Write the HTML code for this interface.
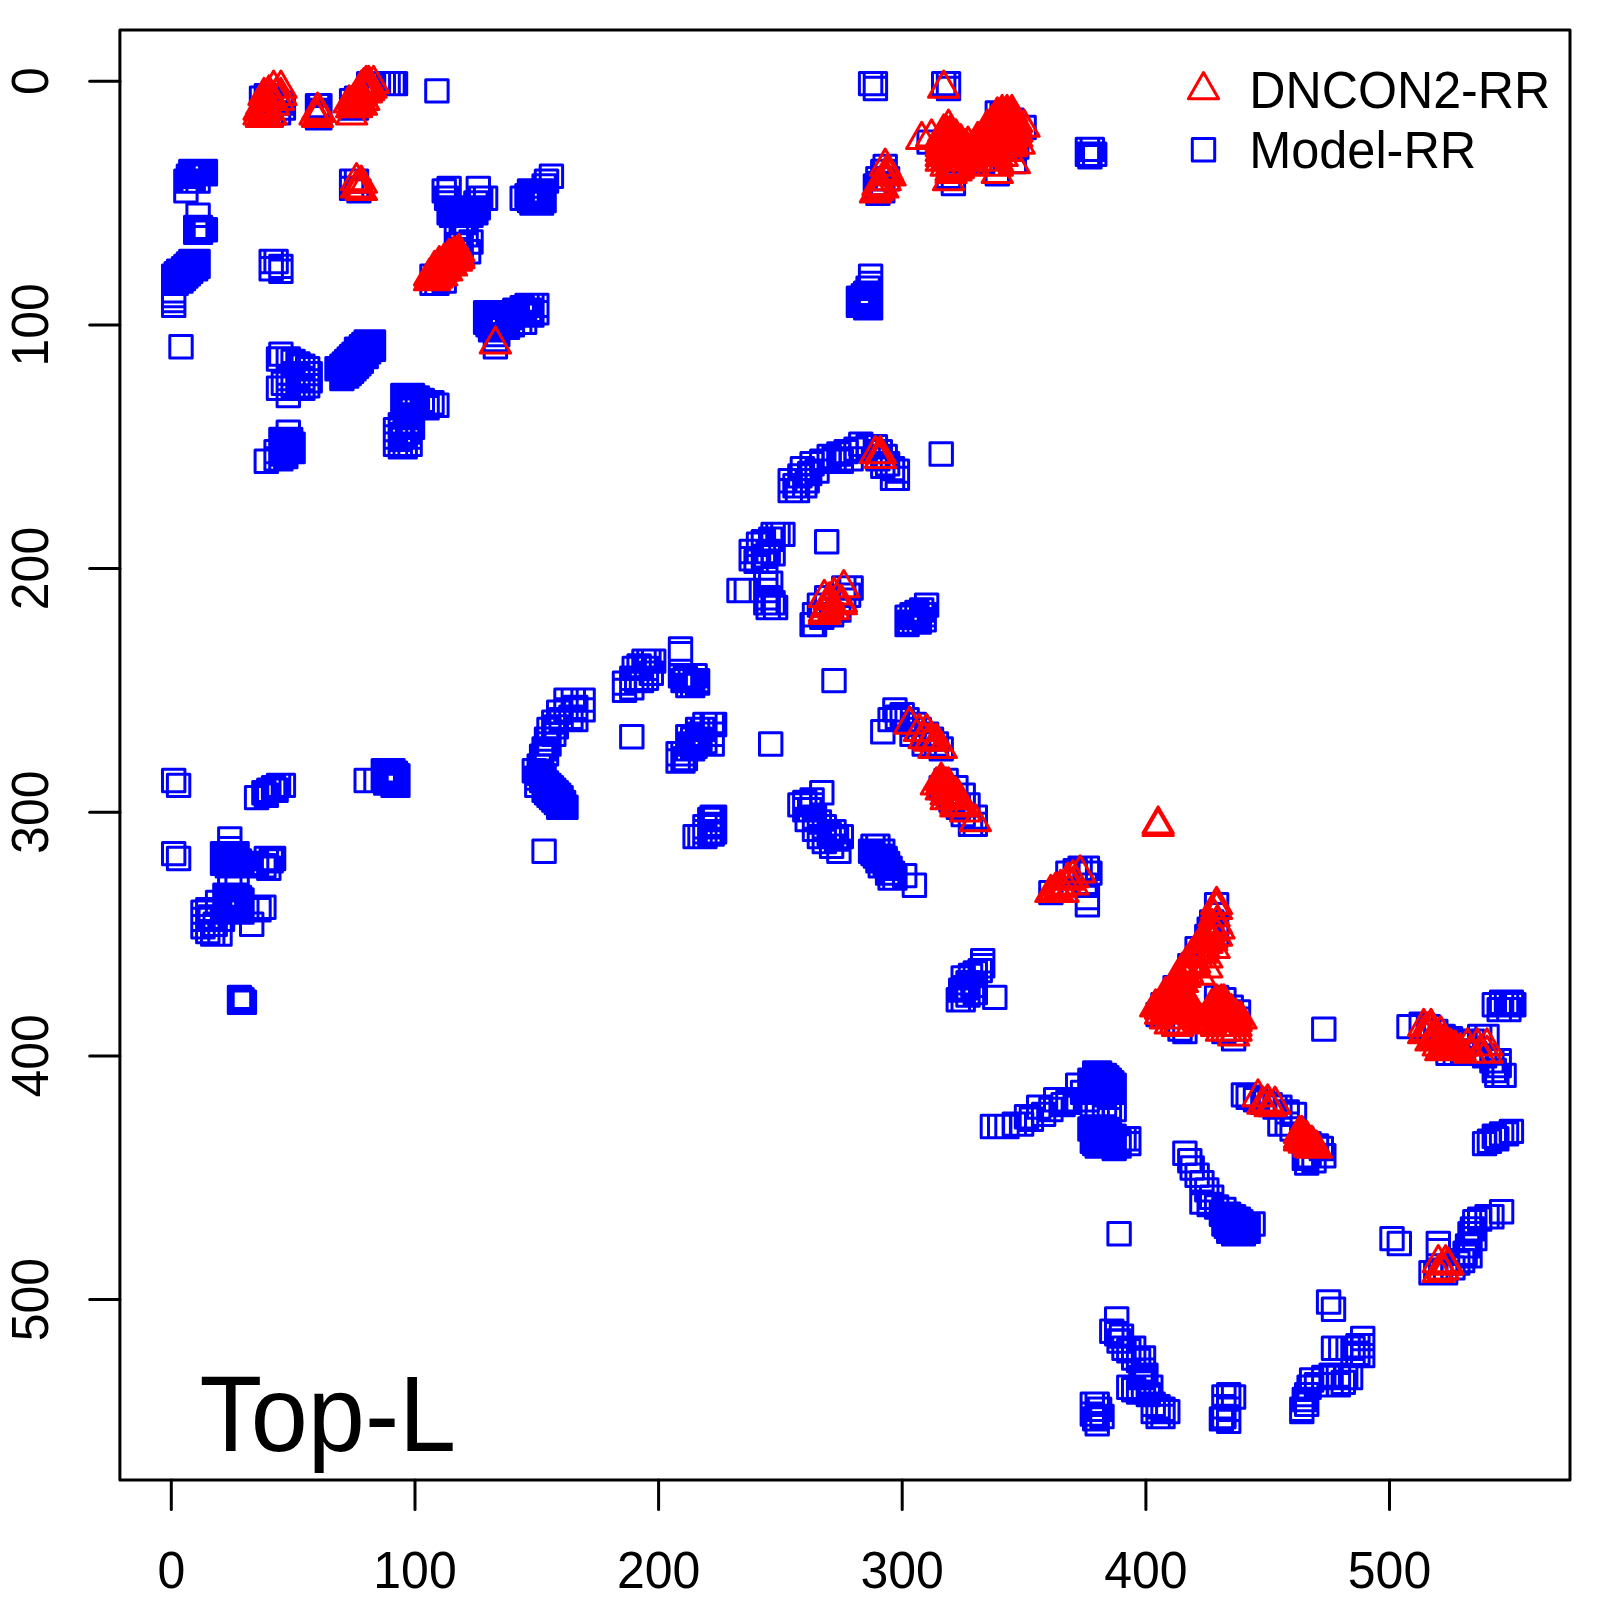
<!DOCTYPE html>
<html><head><meta charset="utf-8"><style>
html,body{margin:0;padding:0;background:#fff;width:1600px;height:1600px;overflow:hidden}
svg{display:block}
text{font-family:"Liberation Sans",Arial,sans-serif;fill:#000}
</style></head><body>
<svg width="1600" height="1600" viewBox="0 0 1600 1600">
<rect width="1600" height="1600" fill="#fff"/>
<g fill="none" stroke="#0000ff" stroke-width="3" stroke-linejoin="round"><path d="M179.6 160.2h22.4v22.4h-22.4zM184.5 160.2h22.4v22.4h-22.4zM189.3 160.2h22.4v22.4h-22.4zM194.2 160.2h22.4v22.4h-22.4zM194.2 162.6h22.4v22.4h-22.4zM182.0 162.6h22.4v22.4h-22.4zM174.7 169.9h22.4v22.4h-22.4zM177.2 169.9h22.4v22.4h-22.4zM186.9 169.9h22.4v22.4h-22.4zM179.6 169.9h22.4v22.4h-22.4zM174.7 179.7h22.4v22.4h-22.4zM182.0 169.9h22.4v22.4h-22.4zM191.8 162.6h22.4v22.4h-22.4zM186.9 162.6h22.4v22.4h-22.4zM177.2 165.0h22.4v22.4h-22.4zM186.9 204.0h22.4v22.4h-22.4zM184.5 216.2h22.4v22.4h-22.4zM189.3 216.2h22.4v22.4h-22.4zM191.8 218.6h22.4v22.4h-22.4zM194.2 218.6h22.4v22.4h-22.4zM186.9 221.1h22.4v22.4h-22.4zM184.5 221.1h22.4v22.4h-22.4zM189.3 221.1h22.4v22.4h-22.4zM162.5 264.9h22.4v22.4h-22.4zM165.0 262.5h22.4v22.4h-22.4zM167.4 260.1h22.4v22.4h-22.4zM169.8 260.1h22.4v22.4h-22.4zM172.3 257.6h22.4v22.4h-22.4zM174.7 255.2h22.4v22.4h-22.4zM177.2 252.8h22.4v22.4h-22.4zM179.6 250.3h22.4v22.4h-22.4zM182.0 250.3h22.4v22.4h-22.4zM184.5 250.3h22.4v22.4h-22.4zM186.9 250.3h22.4v22.4h-22.4zM186.9 255.2h22.4v22.4h-22.4zM162.5 272.2h22.4v22.4h-22.4zM165.0 272.2h22.4v22.4h-22.4zM167.4 269.8h22.4v22.4h-22.4zM169.8 269.8h22.4v22.4h-22.4zM172.3 267.4h22.4v22.4h-22.4zM174.7 264.9h22.4v22.4h-22.4zM177.2 262.5h22.4v22.4h-22.4zM179.6 260.1h22.4v22.4h-22.4zM182.0 257.6h22.4v22.4h-22.4zM184.5 257.6h22.4v22.4h-22.4zM162.5 279.6h22.4v22.4h-22.4zM162.5 284.4h22.4v22.4h-22.4zM162.5 289.3h22.4v22.4h-22.4zM162.5 294.2h22.4v22.4h-22.4zM260.0 250.3h22.4v22.4h-22.4zM264.9 250.3h22.4v22.4h-22.4zM260.0 257.6h22.4v22.4h-22.4zM269.7 260.1h22.4v22.4h-22.4zM269.7 255.2h22.4v22.4h-22.4zM340.4 169.9h22.4v22.4h-22.4zM345.3 169.9h22.4v22.4h-22.4zM345.3 177.2h22.4v22.4h-22.4zM347.7 179.7h22.4v22.4h-22.4zM340.4 177.2h22.4v22.4h-22.4zM250.3 87.1h22.4v22.4h-22.4zM255.1 84.6h22.4v22.4h-22.4zM260.0 87.1h22.4v22.4h-22.4zM264.9 89.5h22.4v22.4h-22.4zM269.7 91.9h22.4v22.4h-22.4zM250.3 99.2h22.4v22.4h-22.4zM252.7 104.1h22.4v22.4h-22.4zM260.0 104.1h22.4v22.4h-22.4zM267.3 101.7h22.4v22.4h-22.4zM272.2 96.8h22.4v22.4h-22.4zM257.6 94.4h22.4v22.4h-22.4zM306.3 94.4h22.4v22.4h-22.4zM308.7 94.4h22.4v22.4h-22.4zM306.3 106.6h22.4v22.4h-22.4zM308.7 106.6h22.4v22.4h-22.4zM306.3 99.2h22.4v22.4h-22.4zM308.7 99.2h22.4v22.4h-22.4zM306.3 101.7h22.4v22.4h-22.4zM308.7 104.1h22.4v22.4h-22.4zM340.4 89.5h22.4v22.4h-22.4zM345.3 87.1h22.4v22.4h-22.4zM340.4 96.8h22.4v22.4h-22.4zM345.3 96.8h22.4v22.4h-22.4zM357.5 72.4h22.4v22.4h-22.4zM362.3 72.4h22.4v22.4h-22.4zM367.2 72.4h22.4v22.4h-22.4zM372.1 72.4h22.4v22.4h-22.4zM376.9 72.4h22.4v22.4h-22.4zM381.8 72.4h22.4v22.4h-22.4zM384.3 72.4h22.4v22.4h-22.4zM425.7 79.7h22.4v22.4h-22.4zM433.0 179.7h22.4v22.4h-22.4zM437.9 177.2h22.4v22.4h-22.4zM467.1 177.2h22.4v22.4h-22.4zM469.5 187.0h22.4v22.4h-22.4zM474.4 187.0h22.4v22.4h-22.4zM435.4 187.0h22.4v22.4h-22.4zM442.7 196.7h22.4v22.4h-22.4zM447.6 199.1h22.4v22.4h-22.4zM452.5 196.7h22.4v22.4h-22.4zM457.4 201.6h22.4v22.4h-22.4zM462.2 199.1h22.4v22.4h-22.4zM467.1 196.7h22.4v22.4h-22.4zM440.3 204.0h22.4v22.4h-22.4zM450.0 204.0h22.4v22.4h-22.4zM459.8 204.0h22.4v22.4h-22.4zM437.9 191.8h22.4v22.4h-22.4zM464.7 191.8h22.4v22.4h-22.4zM447.6 233.3h22.4v22.4h-22.4zM457.4 240.6h22.4v22.4h-22.4zM445.2 223.5h22.4v22.4h-22.4zM454.9 223.5h22.4v22.4h-22.4zM450.0 216.2h22.4v22.4h-22.4zM459.8 230.8h22.4v22.4h-22.4zM452.5 211.3h22.4v22.4h-22.4zM540.2 165.0h22.4v22.4h-22.4zM535.3 169.9h22.4v22.4h-22.4zM532.9 174.8h22.4v22.4h-22.4zM511.0 187.0h22.4v22.4h-22.4zM518.3 182.1h22.4v22.4h-22.4zM523.1 182.1h22.4v22.4h-22.4zM528.0 182.1h22.4v22.4h-22.4zM532.9 182.1h22.4v22.4h-22.4zM518.3 187.0h22.4v22.4h-22.4zM523.1 187.0h22.4v22.4h-22.4zM528.0 187.0h22.4v22.4h-22.4zM532.9 187.0h22.4v22.4h-22.4zM520.7 191.8h22.4v22.4h-22.4zM525.6 191.8h22.4v22.4h-22.4zM530.4 191.8h22.4v22.4h-22.4zM515.8 184.5h22.4v22.4h-22.4zM420.8 272.2h22.4v22.4h-22.4zM425.7 272.2h22.4v22.4h-22.4zM433.0 269.8h22.4v22.4h-22.4zM420.8 264.9h22.4v22.4h-22.4zM428.1 262.5h22.4v22.4h-22.4zM435.4 257.6h22.4v22.4h-22.4zM442.7 250.3h22.4v22.4h-22.4zM450.0 240.6h22.4v22.4h-22.4zM859.4 72.4h22.4v22.4h-22.4zM864.2 77.3h22.4v22.4h-22.4zM932.5 72.4h22.4v22.4h-22.4zM937.3 77.3h22.4v22.4h-22.4zM874.0 155.3h22.4v22.4h-22.4zM871.6 160.2h22.4v22.4h-22.4zM866.7 167.5h22.4v22.4h-22.4zM864.2 174.8h22.4v22.4h-22.4zM866.7 182.1h22.4v22.4h-22.4zM871.6 179.7h22.4v22.4h-22.4zM876.4 167.5h22.4v22.4h-22.4zM869.1 172.3h22.4v22.4h-22.4zM859.4 264.9h22.4v22.4h-22.4zM859.4 272.2h22.4v22.4h-22.4zM854.5 282.0h22.4v22.4h-22.4zM852.1 284.4h22.4v22.4h-22.4zM847.2 289.3h22.4v22.4h-22.4zM847.2 294.2h22.4v22.4h-22.4zM854.5 296.6h22.4v22.4h-22.4zM859.4 296.6h22.4v22.4h-22.4zM859.4 289.3h22.4v22.4h-22.4zM856.9 277.1h22.4v22.4h-22.4zM986.1 101.7h22.4v22.4h-22.4zM990.9 104.1h22.4v22.4h-22.4zM1000.7 109.0h22.4v22.4h-22.4zM995.8 116.3h22.4v22.4h-22.4zM1012.9 116.3h22.4v22.4h-22.4zM1003.1 150.4h22.4v22.4h-22.4zM917.9 130.9h22.4v22.4h-22.4zM937.3 165.0h22.4v22.4h-22.4zM942.2 172.3h22.4v22.4h-22.4zM986.1 162.6h22.4v22.4h-22.4zM1005.6 135.8h22.4v22.4h-22.4zM971.5 150.4h22.4v22.4h-22.4zM952.0 143.1h22.4v22.4h-22.4zM1076.2 138.2h22.4v22.4h-22.4zM1081.1 138.2h22.4v22.4h-22.4zM1076.2 143.1h22.4v22.4h-22.4zM1078.7 145.5h22.4v22.4h-22.4zM1083.5 143.1h22.4v22.4h-22.4zM169.8 335.6h22.4v22.4h-22.4zM269.7 342.9h22.4v22.4h-22.4zM267.3 347.8h22.4v22.4h-22.4zM277.1 347.8h22.4v22.4h-22.4zM281.9 350.2h22.4v22.4h-22.4zM286.8 352.7h22.4v22.4h-22.4zM291.7 355.1h22.4v22.4h-22.4zM296.5 357.5h22.4v22.4h-22.4zM299.0 362.4h22.4v22.4h-22.4zM299.0 369.7h22.4v22.4h-22.4zM296.5 374.6h22.4v22.4h-22.4zM291.7 377.0h22.4v22.4h-22.4zM286.8 377.0h22.4v22.4h-22.4zM281.9 374.6h22.4v22.4h-22.4zM267.3 377.0h22.4v22.4h-22.4zM277.1 384.3h22.4v22.4h-22.4zM286.8 364.8h22.4v22.4h-22.4zM291.7 367.3h22.4v22.4h-22.4zM281.9 362.4h22.4v22.4h-22.4zM277.1 367.3h22.4v22.4h-22.4zM272.2 372.2h22.4v22.4h-22.4zM330.7 357.5h22.4v22.4h-22.4zM330.7 367.3h22.4v22.4h-22.4zM335.5 364.8h22.4v22.4h-22.4zM335.5 355.1h22.4v22.4h-22.4zM340.4 360.0h22.4v22.4h-22.4zM340.4 350.2h22.4v22.4h-22.4zM345.3 355.1h22.4v22.4h-22.4zM345.3 345.3h22.4v22.4h-22.4zM350.1 350.2h22.4v22.4h-22.4zM350.1 340.5h22.4v22.4h-22.4zM355.0 345.3h22.4v22.4h-22.4zM355.0 335.6h22.4v22.4h-22.4zM359.9 330.7h22.4v22.4h-22.4zM362.3 338.0h22.4v22.4h-22.4zM362.3 330.7h22.4v22.4h-22.4zM357.5 330.7h22.4v22.4h-22.4zM352.6 335.6h22.4v22.4h-22.4zM347.7 340.5h22.4v22.4h-22.4zM342.8 345.3h22.4v22.4h-22.4zM338.0 350.2h22.4v22.4h-22.4zM333.1 360.0h22.4v22.4h-22.4zM325.8 357.5h22.4v22.4h-22.4zM335.5 360.0h22.4v22.4h-22.4zM345.3 350.2h22.4v22.4h-22.4zM355.0 340.5h22.4v22.4h-22.4zM277.1 420.9h22.4v22.4h-22.4zM274.6 428.2h22.4v22.4h-22.4zM279.5 428.2h22.4v22.4h-22.4zM281.9 433.1h22.4v22.4h-22.4zM279.5 437.9h22.4v22.4h-22.4zM274.6 440.4h22.4v22.4h-22.4zM269.7 435.5h22.4v22.4h-22.4zM264.9 440.4h22.4v22.4h-22.4zM264.9 447.7h22.4v22.4h-22.4zM255.1 450.1h22.4v22.4h-22.4zM269.7 447.7h22.4v22.4h-22.4zM274.6 445.3h22.4v22.4h-22.4zM281.9 440.4h22.4v22.4h-22.4zM474.4 301.5h22.4v22.4h-22.4zM479.3 301.5h22.4v22.4h-22.4zM484.2 301.5h22.4v22.4h-22.4zM489.0 303.9h22.4v22.4h-22.4zM474.4 303.9h22.4v22.4h-22.4zM476.8 313.7h22.4v22.4h-22.4zM479.3 318.5h22.4v22.4h-22.4zM484.2 318.5h22.4v22.4h-22.4zM486.6 323.4h22.4v22.4h-22.4zM484.2 328.3h22.4v22.4h-22.4zM484.2 335.6h22.4v22.4h-22.4zM491.5 311.2h22.4v22.4h-22.4zM496.3 308.8h22.4v22.4h-22.4zM501.2 306.4h22.4v22.4h-22.4zM506.1 301.5h22.4v22.4h-22.4zM511.0 296.6h22.4v22.4h-22.4zM515.8 294.2h22.4v22.4h-22.4zM520.7 294.2h22.4v22.4h-22.4zM525.6 294.2h22.4v22.4h-22.4zM525.6 301.5h22.4v22.4h-22.4zM520.7 303.9h22.4v22.4h-22.4zM513.4 311.2h22.4v22.4h-22.4zM508.5 311.2h22.4v22.4h-22.4zM501.2 313.7h22.4v22.4h-22.4zM496.3 316.1h22.4v22.4h-22.4zM513.4 303.9h22.4v22.4h-22.4zM481.7 308.8h22.4v22.4h-22.4zM489.0 316.1h22.4v22.4h-22.4zM503.6 299.0h22.4v22.4h-22.4zM518.3 299.0h22.4v22.4h-22.4zM484.2 323.4h22.4v22.4h-22.4zM391.6 384.3h22.4v22.4h-22.4zM396.4 384.3h22.4v22.4h-22.4zM401.3 384.3h22.4v22.4h-22.4zM406.2 386.8h22.4v22.4h-22.4zM411.1 389.2h22.4v22.4h-22.4zM415.9 391.6h22.4v22.4h-22.4zM420.8 391.6h22.4v22.4h-22.4zM425.7 394.1h22.4v22.4h-22.4zM396.4 391.6h22.4v22.4h-22.4zM401.3 394.1h22.4v22.4h-22.4zM406.2 396.5h22.4v22.4h-22.4zM411.1 396.5h22.4v22.4h-22.4zM415.9 396.5h22.4v22.4h-22.4zM391.6 389.2h22.4v22.4h-22.4zM391.6 396.5h22.4v22.4h-22.4zM394.0 403.8h22.4v22.4h-22.4zM389.1 413.6h22.4v22.4h-22.4zM396.4 411.1h22.4v22.4h-22.4zM401.3 416.0h22.4v22.4h-22.4zM384.3 418.4h22.4v22.4h-22.4zM384.3 425.8h22.4v22.4h-22.4zM384.3 433.1h22.4v22.4h-22.4zM389.1 435.5h22.4v22.4h-22.4zM394.0 435.5h22.4v22.4h-22.4zM398.9 433.1h22.4v22.4h-22.4zM398.9 425.8h22.4v22.4h-22.4zM396.4 420.9h22.4v22.4h-22.4zM391.6 423.3h22.4v22.4h-22.4zM401.3 389.2h22.4v22.4h-22.4zM394.0 399.0h22.4v22.4h-22.4zM398.9 406.3h22.4v22.4h-22.4zM389.1 428.2h22.4v22.4h-22.4zM779.0 479.4h22.4v22.4h-22.4zM779.0 469.6h22.4v22.4h-22.4zM783.8 474.5h22.4v22.4h-22.4zM788.7 464.7h22.4v22.4h-22.4zM791.2 457.4h22.4v22.4h-22.4zM796.0 469.6h22.4v22.4h-22.4zM800.9 452.6h22.4v22.4h-22.4zM805.8 459.9h22.4v22.4h-22.4zM818.0 445.3h22.4v22.4h-22.4zM827.7 442.8h22.4v22.4h-22.4zM835.0 440.4h22.4v22.4h-22.4zM839.9 447.7h22.4v22.4h-22.4zM849.6 433.1h22.4v22.4h-22.4zM856.9 435.5h22.4v22.4h-22.4zM864.2 435.5h22.4v22.4h-22.4zM869.1 440.4h22.4v22.4h-22.4zM874.0 445.3h22.4v22.4h-22.4zM876.4 452.6h22.4v22.4h-22.4zM881.3 457.4h22.4v22.4h-22.4zM886.2 459.9h22.4v22.4h-22.4zM886.2 467.2h22.4v22.4h-22.4zM881.3 467.2h22.4v22.4h-22.4zM871.6 455.0h22.4v22.4h-22.4zM866.7 447.7h22.4v22.4h-22.4zM786.3 479.4h22.4v22.4h-22.4zM793.6 474.5h22.4v22.4h-22.4zM798.5 462.3h22.4v22.4h-22.4zM810.6 450.1h22.4v22.4h-22.4zM822.8 447.7h22.4v22.4h-22.4zM830.1 450.1h22.4v22.4h-22.4zM844.8 437.9h22.4v22.4h-22.4zM930.0 442.8h22.4v22.4h-22.4zM761.9 523.2h22.4v22.4h-22.4zM766.8 523.2h22.4v22.4h-22.4zM771.7 523.2h22.4v22.4h-22.4zM747.3 533.0h22.4v22.4h-22.4zM752.2 530.5h22.4v22.4h-22.4zM759.5 528.1h22.4v22.4h-22.4zM740.0 540.3h22.4v22.4h-22.4zM740.0 547.6h22.4v22.4h-22.4zM744.9 550.0h22.4v22.4h-22.4zM752.2 545.2h22.4v22.4h-22.4zM757.0 540.3h22.4v22.4h-22.4zM761.9 542.7h22.4v22.4h-22.4zM754.6 550.0h22.4v22.4h-22.4zM747.3 540.3h22.4v22.4h-22.4zM815.5 530.5h22.4v22.4h-22.4zM727.8 579.3h22.4v22.4h-22.4zM735.1 579.3h22.4v22.4h-22.4zM754.6 579.3h22.4v22.4h-22.4zM757.0 586.6h22.4v22.4h-22.4zM761.9 591.5h22.4v22.4h-22.4zM764.4 596.3h22.4v22.4h-22.4zM757.0 596.3h22.4v22.4h-22.4zM754.6 591.5h22.4v22.4h-22.4zM759.5 572.0h22.4v22.4h-22.4zM754.6 567.1h22.4v22.4h-22.4zM832.6 576.8h22.4v22.4h-22.4zM839.9 576.8h22.4v22.4h-22.4zM837.4 584.1h22.4v22.4h-22.4zM832.6 589.0h22.4v22.4h-22.4zM815.5 586.6h22.4v22.4h-22.4zM808.2 593.9h22.4v22.4h-22.4zM803.3 603.6h22.4v22.4h-22.4zM803.3 613.4h22.4v22.4h-22.4zM810.6 606.1h22.4v22.4h-22.4zM820.4 603.6h22.4v22.4h-22.4zM827.7 598.8h22.4v22.4h-22.4zM915.4 593.9h22.4v22.4h-22.4zM910.5 598.8h22.4v22.4h-22.4zM905.7 601.2h22.4v22.4h-22.4zM900.8 603.6h22.4v22.4h-22.4zM895.9 606.1h22.4v22.4h-22.4zM898.4 610.9h22.4v22.4h-22.4zM903.2 610.9h22.4v22.4h-22.4zM908.1 610.9h22.4v22.4h-22.4zM913.0 608.5h22.4v22.4h-22.4zM913.0 603.6h22.4v22.4h-22.4zM895.9 613.4h22.4v22.4h-22.4zM905.7 606.1h22.4v22.4h-22.4zM162.5 769.3h22.4v22.4h-22.4zM167.4 774.2h22.4v22.4h-22.4zM245.4 786.4h22.4v22.4h-22.4zM252.7 781.5h22.4v22.4h-22.4zM257.6 779.1h22.4v22.4h-22.4zM262.4 776.6h22.4v22.4h-22.4zM267.3 774.2h22.4v22.4h-22.4zM272.2 774.2h22.4v22.4h-22.4zM255.1 784.0h22.4v22.4h-22.4zM264.9 779.1h22.4v22.4h-22.4zM355.0 769.3h22.4v22.4h-22.4zM364.8 769.3h22.4v22.4h-22.4zM372.1 764.5h22.4v22.4h-22.4zM381.8 759.6h22.4v22.4h-22.4zM381.8 766.9h22.4v22.4h-22.4zM386.7 764.5h22.4v22.4h-22.4zM381.8 774.2h22.4v22.4h-22.4zM386.7 774.2h22.4v22.4h-22.4zM376.9 771.8h22.4v22.4h-22.4zM162.5 842.4h22.4v22.4h-22.4zM167.4 847.3h22.4v22.4h-22.4zM218.6 827.8h22.4v22.4h-22.4zM211.3 842.4h22.4v22.4h-22.4zM211.3 849.7h22.4v22.4h-22.4zM218.6 844.9h22.4v22.4h-22.4zM223.4 847.3h22.4v22.4h-22.4zM228.3 849.7h22.4v22.4h-22.4zM230.8 854.6h22.4v22.4h-22.4zM223.4 854.6h22.4v22.4h-22.4zM216.1 854.6h22.4v22.4h-22.4zM255.1 847.3h22.4v22.4h-22.4zM260.0 849.7h22.4v22.4h-22.4zM262.4 847.3h22.4v22.4h-22.4zM257.6 857.1h22.4v22.4h-22.4zM252.7 854.6h22.4v22.4h-22.4zM245.4 852.2h22.4v22.4h-22.4zM238.1 852.2h22.4v22.4h-22.4zM218.6 837.6h22.4v22.4h-22.4zM225.9 842.4h22.4v22.4h-22.4zM218.6 876.5h22.4v22.4h-22.4zM225.9 876.5h22.4v22.4h-22.4zM213.7 883.9h22.4v22.4h-22.4zM218.6 886.3h22.4v22.4h-22.4zM225.9 883.9h22.4v22.4h-22.4zM230.8 888.7h22.4v22.4h-22.4zM213.7 893.6h22.4v22.4h-22.4zM221.0 893.6h22.4v22.4h-22.4zM228.3 896.0h22.4v22.4h-22.4zM230.8 900.9h22.4v22.4h-22.4zM216.1 900.9h22.4v22.4h-22.4zM206.4 891.2h22.4v22.4h-22.4zM196.6 898.5h22.4v22.4h-22.4zM191.8 900.9h22.4v22.4h-22.4zM191.8 908.2h22.4v22.4h-22.4zM191.8 915.5h22.4v22.4h-22.4zM196.6 920.4h22.4v22.4h-22.4zM201.5 922.8h22.4v22.4h-22.4zM208.8 922.8h22.4v22.4h-22.4zM204.0 913.1h22.4v22.4h-22.4zM211.3 908.2h22.4v22.4h-22.4zM240.5 913.1h22.4v22.4h-22.4zM252.7 896.0h22.4v22.4h-22.4zM247.8 898.5h22.4v22.4h-22.4zM235.6 898.5h22.4v22.4h-22.4zM199.1 905.8h22.4v22.4h-22.4zM223.4 900.9h22.4v22.4h-22.4zM228.3 986.2h22.4v22.4h-22.4zM230.8 988.6h22.4v22.4h-22.4zM233.2 991.1h22.4v22.4h-22.4zM228.3 991.1h22.4v22.4h-22.4zM554.8 688.9h22.4v22.4h-22.4zM562.1 688.9h22.4v22.4h-22.4zM571.9 688.9h22.4v22.4h-22.4zM564.6 696.2h22.4v22.4h-22.4zM571.9 698.7h22.4v22.4h-22.4zM547.5 701.1h22.4v22.4h-22.4zM554.8 698.7h22.4v22.4h-22.4zM542.6 710.9h22.4v22.4h-22.4zM549.9 708.4h22.4v22.4h-22.4zM559.7 706.0h22.4v22.4h-22.4zM564.6 708.4h22.4v22.4h-22.4zM537.8 718.2h22.4v22.4h-22.4zM545.1 715.7h22.4v22.4h-22.4zM535.3 727.9h22.4v22.4h-22.4zM542.6 723.0h22.4v22.4h-22.4zM532.9 737.7h22.4v22.4h-22.4zM537.8 732.8h22.4v22.4h-22.4zM530.4 745.0h22.4v22.4h-22.4zM535.3 742.5h22.4v22.4h-22.4zM523.1 759.6h22.4v22.4h-22.4zM528.0 754.7h22.4v22.4h-22.4zM525.6 766.9h22.4v22.4h-22.4zM525.6 774.2h22.4v22.4h-22.4zM532.9 764.5h22.4v22.4h-22.4zM535.3 771.8h22.4v22.4h-22.4zM540.2 776.6h22.4v22.4h-22.4zM545.1 781.5h22.4v22.4h-22.4zM547.5 786.4h22.4v22.4h-22.4zM549.9 791.3h22.4v22.4h-22.4zM554.8 796.1h22.4v22.4h-22.4zM547.5 796.1h22.4v22.4h-22.4zM537.8 781.5h22.4v22.4h-22.4zM530.4 769.3h22.4v22.4h-22.4zM528.0 762.0h22.4v22.4h-22.4zM632.8 649.9h22.4v22.4h-22.4zM637.7 649.9h22.4v22.4h-22.4zM642.5 649.9h22.4v22.4h-22.4zM623.0 657.2h22.4v22.4h-22.4zM627.9 654.8h22.4v22.4h-22.4zM635.2 657.2h22.4v22.4h-22.4zM640.1 662.1h22.4v22.4h-22.4zM613.3 671.9h22.4v22.4h-22.4zM613.3 679.2h22.4v22.4h-22.4zM620.6 667.0h22.4v22.4h-22.4zM625.5 669.4h22.4v22.4h-22.4zM630.3 669.4h22.4v22.4h-22.4zM635.2 667.0h22.4v22.4h-22.4zM620.6 676.7h22.4v22.4h-22.4zM669.3 637.8h22.4v22.4h-22.4zM669.3 642.6h22.4v22.4h-22.4zM620.6 725.5h22.4v22.4h-22.4zM532.9 840.0h22.4v22.4h-22.4zM669.3 664.6h22.4v22.4h-22.4zM674.2 667.0h22.4v22.4h-22.4zM679.1 669.4h22.4v22.4h-22.4zM683.9 664.6h22.4v22.4h-22.4zM686.4 671.9h22.4v22.4h-22.4zM676.6 674.3h22.4v22.4h-22.4zM671.8 669.4h22.4v22.4h-22.4zM681.5 674.3h22.4v22.4h-22.4zM693.7 713.3h22.4v22.4h-22.4zM701.0 713.3h22.4v22.4h-22.4zM703.4 713.3h22.4v22.4h-22.4zM686.4 718.2h22.4v22.4h-22.4zM691.3 718.2h22.4v22.4h-22.4zM693.7 723.0h22.4v22.4h-22.4zM686.4 723.0h22.4v22.4h-22.4zM688.8 727.9h22.4v22.4h-22.4zM693.7 730.3h22.4v22.4h-22.4zM686.4 730.3h22.4v22.4h-22.4zM676.6 725.5h22.4v22.4h-22.4zM681.5 727.9h22.4v22.4h-22.4zM679.1 732.8h22.4v22.4h-22.4zM683.9 735.2h22.4v22.4h-22.4zM676.6 737.7h22.4v22.4h-22.4zM681.5 737.7h22.4v22.4h-22.4zM666.9 742.5h22.4v22.4h-22.4zM671.8 742.5h22.4v22.4h-22.4zM674.2 747.4h22.4v22.4h-22.4zM666.9 749.8h22.4v22.4h-22.4zM671.8 749.8h22.4v22.4h-22.4zM683.9 825.4h22.4v22.4h-22.4zM688.8 825.4h22.4v22.4h-22.4zM693.7 815.6h22.4v22.4h-22.4zM693.7 820.5h22.4v22.4h-22.4zM693.7 825.4h22.4v22.4h-22.4zM698.6 808.3h22.4v22.4h-22.4zM701.0 805.9h22.4v22.4h-22.4zM703.4 805.9h22.4v22.4h-22.4zM703.4 813.2h22.4v22.4h-22.4zM701.0 815.6h22.4v22.4h-22.4zM698.6 822.9h22.4v22.4h-22.4zM701.0 822.9h22.4v22.4h-22.4zM703.4 820.5h22.4v22.4h-22.4zM757.0 596.3h22.4v22.4h-22.4zM764.4 596.3h22.4v22.4h-22.4zM800.9 613.4h22.4v22.4h-22.4zM686.4 669.4h22.4v22.4h-22.4zM701.0 723.0h22.4v22.4h-22.4zM701.0 732.8h22.4v22.4h-22.4zM759.5 732.8h22.4v22.4h-22.4zM822.8 669.4h22.4v22.4h-22.4zM883.7 698.7h22.4v22.4h-22.4zM886.2 706.0h22.4v22.4h-22.4zM871.6 720.6h22.4v22.4h-22.4zM878.9 708.4h22.4v22.4h-22.4zM891.0 703.5h22.4v22.4h-22.4zM895.9 708.4h22.4v22.4h-22.4zM903.2 713.3h22.4v22.4h-22.4zM908.1 718.2h22.4v22.4h-22.4zM915.4 723.0h22.4v22.4h-22.4zM920.3 727.9h22.4v22.4h-22.4zM925.2 732.8h22.4v22.4h-22.4zM930.0 737.7h22.4v22.4h-22.4zM900.8 723.0h22.4v22.4h-22.4zM913.0 732.8h22.4v22.4h-22.4zM934.9 769.3h22.4v22.4h-22.4zM944.7 776.6h22.4v22.4h-22.4zM952.0 784.0h22.4v22.4h-22.4zM956.8 793.7h22.4v22.4h-22.4zM964.1 805.9h22.4v22.4h-22.4zM964.1 813.2h22.4v22.4h-22.4zM959.3 813.2h22.4v22.4h-22.4zM952.0 803.4h22.4v22.4h-22.4zM939.8 788.8h22.4v22.4h-22.4zM930.0 776.6h22.4v22.4h-22.4zM934.9 781.5h22.4v22.4h-22.4zM947.1 796.1h22.4v22.4h-22.4zM810.6 781.5h22.4v22.4h-22.4zM800.9 788.8h22.4v22.4h-22.4zM788.7 793.7h22.4v22.4h-22.4zM793.6 791.3h22.4v22.4h-22.4zM798.5 798.6h22.4v22.4h-22.4zM796.0 808.3h22.4v22.4h-22.4zM803.3 805.9h22.4v22.4h-22.4zM808.2 810.8h22.4v22.4h-22.4zM803.3 818.1h22.4v22.4h-22.4zM813.1 815.6h22.4v22.4h-22.4zM808.2 825.4h22.4v22.4h-22.4zM818.0 822.9h22.4v22.4h-22.4zM813.1 830.3h22.4v22.4h-22.4zM820.4 835.1h22.4v22.4h-22.4zM827.7 840.0h22.4v22.4h-22.4zM825.3 827.8h22.4v22.4h-22.4zM830.1 825.4h22.4v22.4h-22.4zM822.8 820.5h22.4v22.4h-22.4zM793.6 798.6h22.4v22.4h-22.4zM800.9 793.7h22.4v22.4h-22.4zM861.8 835.1h22.4v22.4h-22.4zM866.7 835.1h22.4v22.4h-22.4zM859.4 840.0h22.4v22.4h-22.4zM864.2 844.9h22.4v22.4h-22.4zM869.1 844.9h22.4v22.4h-22.4zM866.7 849.7h22.4v22.4h-22.4zM871.6 849.7h22.4v22.4h-22.4zM874.0 854.6h22.4v22.4h-22.4zM876.4 852.2h22.4v22.4h-22.4zM878.9 857.1h22.4v22.4h-22.4zM881.3 861.9h22.4v22.4h-22.4zM883.7 866.8h22.4v22.4h-22.4zM878.9 866.8h22.4v22.4h-22.4zM893.5 864.4h22.4v22.4h-22.4zM903.2 874.1h22.4v22.4h-22.4zM871.6 840.0h22.4v22.4h-22.4zM874.0 847.3h22.4v22.4h-22.4zM861.8 842.4h22.4v22.4h-22.4zM869.1 854.6h22.4v22.4h-22.4zM876.4 861.9h22.4v22.4h-22.4zM1039.7 881.4h22.4v22.4h-22.4zM1056.7 861.9h22.4v22.4h-22.4zM1068.9 857.1h22.4v22.4h-22.4zM1076.2 857.1h22.4v22.4h-22.4zM1078.7 861.9h22.4v22.4h-22.4zM1076.2 886.3h22.4v22.4h-22.4zM1076.2 893.6h22.4v22.4h-22.4zM1073.8 874.1h22.4v22.4h-22.4zM1064.0 859.5h22.4v22.4h-22.4zM1205.4 893.6h22.4v22.4h-22.4zM971.5 949.6h22.4v22.4h-22.4zM971.5 954.5h22.4v22.4h-22.4zM969.0 959.4h22.4v22.4h-22.4zM964.1 961.8h22.4v22.4h-22.4zM959.3 964.3h22.4v22.4h-22.4zM952.0 966.7h22.4v22.4h-22.4zM956.8 971.6h22.4v22.4h-22.4zM949.5 978.9h22.4v22.4h-22.4zM954.4 976.5h22.4v22.4h-22.4zM961.7 974.0h22.4v22.4h-22.4zM947.1 988.6h22.4v22.4h-22.4zM952.0 988.6h22.4v22.4h-22.4zM956.8 983.8h22.4v22.4h-22.4zM964.1 981.3h22.4v22.4h-22.4zM983.6 986.2h22.4v22.4h-22.4zM1195.6 925.3h22.4v22.4h-22.4zM1185.9 937.5h22.4v22.4h-22.4zM1178.6 954.5h22.4v22.4h-22.4zM1163.9 976.5h22.4v22.4h-22.4zM1151.8 993.5h22.4v22.4h-22.4zM1146.9 1003.3h22.4v22.4h-22.4zM1205.4 986.2h22.4v22.4h-22.4zM1212.7 988.6h22.4v22.4h-22.4zM1220.0 995.9h22.4v22.4h-22.4zM1227.3 1000.8h22.4v22.4h-22.4zM1227.3 1008.1h22.4v22.4h-22.4zM1222.4 1017.9h22.4v22.4h-22.4zM1222.4 1027.6h22.4v22.4h-22.4zM1212.7 1020.3h22.4v22.4h-22.4zM1173.7 1020.3h22.4v22.4h-22.4zM1168.8 1017.9h22.4v22.4h-22.4zM1200.5 910.7h22.4v22.4h-22.4zM1198.0 918.0h22.4v22.4h-22.4zM981.2 1115.3h22.4v22.4h-22.4zM988.5 1115.3h22.4v22.4h-22.4zM995.8 1115.3h22.4v22.4h-22.4zM1003.1 1112.9h22.4v22.4h-22.4zM1010.4 1112.9h22.4v22.4h-22.4zM1015.3 1105.6h22.4v22.4h-22.4zM1020.2 1108.0h22.4v22.4h-22.4zM1027.5 1095.9h22.4v22.4h-22.4zM1032.4 1103.2h22.4v22.4h-22.4zM1039.7 1098.3h22.4v22.4h-22.4zM1044.5 1088.5h22.4v22.4h-22.4zM1051.9 1093.4h22.4v22.4h-22.4zM1056.7 1091.0h22.4v22.4h-22.4zM1064.0 1088.5h22.4v22.4h-22.4zM1066.5 1073.9h22.4v22.4h-22.4zM1071.4 1081.2h22.4v22.4h-22.4zM1076.2 1088.5h22.4v22.4h-22.4zM1081.1 1093.4h22.4v22.4h-22.4zM1086.0 1098.3h22.4v22.4h-22.4zM1093.3 1093.4h22.4v22.4h-22.4zM1098.2 1095.9h22.4v22.4h-22.4zM1103.0 1098.3h22.4v22.4h-22.4zM1083.5 1061.7h22.4v22.4h-22.4zM1088.4 1061.7h22.4v22.4h-22.4zM1093.3 1064.2h22.4v22.4h-22.4zM1098.2 1069.0h22.4v22.4h-22.4zM1103.0 1073.9h22.4v22.4h-22.4zM1103.0 1081.2h22.4v22.4h-22.4zM1098.2 1086.1h22.4v22.4h-22.4zM1093.3 1083.7h22.4v22.4h-22.4zM1088.4 1081.2h22.4v22.4h-22.4zM1083.5 1076.4h22.4v22.4h-22.4zM1078.7 1069.0h22.4v22.4h-22.4zM1088.4 1069.0h22.4v22.4h-22.4zM1095.7 1073.9h22.4v22.4h-22.4zM1078.7 1117.8h22.4v22.4h-22.4zM1083.5 1120.2h22.4v22.4h-22.4zM1088.4 1125.1h22.4v22.4h-22.4zM1093.3 1130.0h22.4v22.4h-22.4zM1098.2 1134.8h22.4v22.4h-22.4zM1103.0 1137.3h22.4v22.4h-22.4zM1107.9 1134.8h22.4v22.4h-22.4zM1112.8 1127.5h22.4v22.4h-22.4zM1117.6 1127.5h22.4v22.4h-22.4zM1086.0 1130.0h22.4v22.4h-22.4zM1081.1 1125.1h22.4v22.4h-22.4zM1095.7 1122.7h22.4v22.4h-22.4zM1103.0 1127.5h22.4v22.4h-22.4zM1107.9 1130.0h22.4v22.4h-22.4zM1232.2 1083.7h22.4v22.4h-22.4zM1237.0 1086.1h22.4v22.4h-22.4zM1244.3 1088.5h22.4v22.4h-22.4zM1251.7 1091.0h22.4v22.4h-22.4zM1259.0 1093.4h22.4v22.4h-22.4zM1263.8 1095.9h22.4v22.4h-22.4zM1312.6 1017.9h22.4v22.4h-22.4zM1397.8 1015.4h22.4v22.4h-22.4zM1410.0 1013.0h22.4v22.4h-22.4zM1417.3 1015.4h22.4v22.4h-22.4zM1424.6 1020.3h22.4v22.4h-22.4zM1432.0 1025.2h22.4v22.4h-22.4zM1439.3 1027.6h22.4v22.4h-22.4zM1446.6 1030.1h22.4v22.4h-22.4zM1453.9 1032.5h22.4v22.4h-22.4zM1461.2 1030.1h22.4v22.4h-22.4zM1468.5 1025.2h22.4v22.4h-22.4zM1475.8 1025.2h22.4v22.4h-22.4zM1436.8 1042.2h22.4v22.4h-22.4zM1444.1 1042.2h22.4v22.4h-22.4zM1451.4 1039.8h22.4v22.4h-22.4zM1463.6 1042.2h22.4v22.4h-22.4zM1473.4 1044.7h22.4v22.4h-22.4zM1480.7 1049.6h22.4v22.4h-22.4zM1488.0 1049.6h22.4v22.4h-22.4zM1483.1 1059.3h22.4v22.4h-22.4zM1492.9 1064.2h22.4v22.4h-22.4zM1488.0 1054.4h22.4v22.4h-22.4zM1485.6 1064.2h22.4v22.4h-22.4zM1483.1 993.5h22.4v22.4h-22.4zM1490.4 991.1h22.4v22.4h-22.4zM1495.3 991.1h22.4v22.4h-22.4zM1500.2 991.1h22.4v22.4h-22.4zM1488.0 998.4h22.4v22.4h-22.4zM1497.7 998.4h22.4v22.4h-22.4zM1502.6 993.5h22.4v22.4h-22.4zM1268.7 1095.9h22.4v22.4h-22.4zM1276.0 1100.7h22.4v22.4h-22.4zM1283.3 1103.2h22.4v22.4h-22.4zM1276.0 1112.9h22.4v22.4h-22.4zM1280.9 1117.8h22.4v22.4h-22.4zM1268.7 1112.9h22.4v22.4h-22.4zM1290.6 1127.5h22.4v22.4h-22.4zM1297.9 1132.4h22.4v22.4h-22.4zM1305.3 1134.8h22.4v22.4h-22.4zM1310.1 1137.3h22.4v22.4h-22.4zM1297.9 1144.6h22.4v22.4h-22.4zM1293.1 1147.0h22.4v22.4h-22.4zM1302.8 1149.5h22.4v22.4h-22.4zM1312.6 1144.6h22.4v22.4h-22.4zM1295.5 1151.9h22.4v22.4h-22.4zM1473.4 1132.4h22.4v22.4h-22.4zM1478.2 1130.0h22.4v22.4h-22.4zM1483.1 1125.1h22.4v22.4h-22.4zM1490.4 1122.7h22.4v22.4h-22.4zM1495.3 1122.7h22.4v22.4h-22.4zM1500.2 1120.2h22.4v22.4h-22.4zM1485.6 1127.5h22.4v22.4h-22.4zM1173.7 1142.1h22.4v22.4h-22.4zM1178.6 1149.5h22.4v22.4h-22.4zM1181.0 1156.8h22.4v22.4h-22.4zM1185.9 1164.1h22.4v22.4h-22.4zM1190.7 1171.4h22.4v22.4h-22.4zM1195.6 1178.7h22.4v22.4h-22.4zM1200.5 1186.0h22.4v22.4h-22.4zM1190.7 1190.9h22.4v22.4h-22.4zM1198.0 1193.3h22.4v22.4h-22.4zM1205.4 1195.8h22.4v22.4h-22.4zM1212.7 1198.2h22.4v22.4h-22.4zM1217.5 1203.1h22.4v22.4h-22.4zM1222.4 1207.9h22.4v22.4h-22.4zM1227.3 1212.8h22.4v22.4h-22.4zM1232.2 1215.2h22.4v22.4h-22.4zM1237.0 1215.2h22.4v22.4h-22.4zM1241.9 1212.8h22.4v22.4h-22.4zM1220.0 1215.2h22.4v22.4h-22.4zM1227.3 1220.1h22.4v22.4h-22.4zM1232.2 1222.6h22.4v22.4h-22.4zM1222.4 1222.6h22.4v22.4h-22.4zM1210.2 1203.1h22.4v22.4h-22.4zM1215.1 1210.4h22.4v22.4h-22.4zM1107.9 1222.6h22.4v22.4h-22.4zM1105.5 1307.8h22.4v22.4h-22.4zM1100.6 1320.0h22.4v22.4h-22.4zM1105.5 1322.5h22.4v22.4h-22.4zM1110.3 1324.9h22.4v22.4h-22.4zM1107.9 1329.8h22.4v22.4h-22.4zM1112.8 1337.1h22.4v22.4h-22.4zM1117.6 1339.5h22.4v22.4h-22.4zM1122.5 1337.1h22.4v22.4h-22.4zM1122.5 1346.8h22.4v22.4h-22.4zM1127.4 1349.3h22.4v22.4h-22.4zM1132.3 1346.8h22.4v22.4h-22.4zM1132.3 1359.0h22.4v22.4h-22.4zM1134.7 1363.9h22.4v22.4h-22.4zM1129.8 1366.3h22.4v22.4h-22.4zM1117.6 1376.1h22.4v22.4h-22.4zM1122.5 1378.5h22.4v22.4h-22.4zM1127.4 1380.9h22.4v22.4h-22.4zM1132.3 1380.9h22.4v22.4h-22.4zM1137.1 1383.4h22.4v22.4h-22.4zM1139.6 1376.1h22.4v22.4h-22.4zM1142.0 1393.1h22.4v22.4h-22.4zM1146.9 1395.6h22.4v22.4h-22.4zM1151.8 1398.0h22.4v22.4h-22.4zM1156.6 1400.4h22.4v22.4h-22.4zM1151.8 1405.3h22.4v22.4h-22.4zM1146.9 1405.3h22.4v22.4h-22.4zM1142.0 1400.4h22.4v22.4h-22.4zM1081.1 1393.1h22.4v22.4h-22.4zM1086.0 1393.1h22.4v22.4h-22.4zM1088.4 1398.0h22.4v22.4h-22.4zM1081.1 1402.9h22.4v22.4h-22.4zM1083.5 1407.7h22.4v22.4h-22.4zM1086.0 1412.6h22.4v22.4h-22.4zM1090.8 1405.3h22.4v22.4h-22.4zM1212.7 1385.8h22.4v22.4h-22.4zM1217.5 1383.4h22.4v22.4h-22.4zM1222.4 1385.8h22.4v22.4h-22.4zM1212.7 1395.6h22.4v22.4h-22.4zM1217.5 1398.0h22.4v22.4h-22.4zM1212.7 1405.3h22.4v22.4h-22.4zM1217.5 1410.2h22.4v22.4h-22.4zM1210.2 1407.7h22.4v22.4h-22.4zM1290.6 1400.4h22.4v22.4h-22.4zM1380.8 1227.4h22.4v22.4h-22.4zM1388.1 1232.3h22.4v22.4h-22.4zM1490.4 1200.6h22.4v22.4h-22.4zM1475.8 1205.5h22.4v22.4h-22.4zM1480.7 1205.5h22.4v22.4h-22.4zM1463.6 1210.4h22.4v22.4h-22.4zM1468.5 1207.9h22.4v22.4h-22.4zM1458.8 1222.6h22.4v22.4h-22.4zM1463.6 1227.4h22.4v22.4h-22.4zM1461.2 1217.7h22.4v22.4h-22.4zM1453.9 1242.1h22.4v22.4h-22.4zM1458.8 1244.5h22.4v22.4h-22.4zM1456.3 1234.7h22.4v22.4h-22.4zM1451.4 1249.4h22.4v22.4h-22.4zM1427.1 1232.3h22.4v22.4h-22.4zM1427.1 1239.6h22.4v22.4h-22.4zM1419.8 1261.5h22.4v22.4h-22.4zM1424.6 1261.5h22.4v22.4h-22.4zM1429.5 1259.1h22.4v22.4h-22.4zM1434.4 1261.5h22.4v22.4h-22.4zM1446.6 1251.8h22.4v22.4h-22.4zM1441.7 1256.7h22.4v22.4h-22.4zM1317.4 1290.8h22.4v22.4h-22.4zM1322.3 1298.1h22.4v22.4h-22.4zM1322.3 1337.1h22.4v22.4h-22.4zM1329.6 1337.1h22.4v22.4h-22.4zM1336.9 1337.1h22.4v22.4h-22.4zM1341.8 1337.1h22.4v22.4h-22.4zM1346.7 1334.6h22.4v22.4h-22.4zM1351.5 1327.3h22.4v22.4h-22.4zM1351.5 1334.6h22.4v22.4h-22.4zM1351.5 1344.4h22.4v22.4h-22.4zM1346.7 1342.0h22.4v22.4h-22.4zM1341.8 1344.4h22.4v22.4h-22.4zM1312.6 1366.3h22.4v22.4h-22.4zM1319.9 1363.9h22.4v22.4h-22.4zM1327.2 1363.9h22.4v22.4h-22.4zM1334.5 1366.3h22.4v22.4h-22.4zM1339.4 1366.3h22.4v22.4h-22.4zM1319.9 1373.6h22.4v22.4h-22.4zM1327.2 1373.6h22.4v22.4h-22.4zM1332.1 1371.2h22.4v22.4h-22.4zM1300.4 1368.8h22.4v22.4h-22.4zM1297.9 1376.1h22.4v22.4h-22.4zM1295.5 1383.4h22.4v22.4h-22.4zM1293.1 1388.3h22.4v22.4h-22.4zM1290.6 1398.0h22.4v22.4h-22.4zM1295.5 1393.1h22.4v22.4h-22.4zM1305.3 1373.6h22.4v22.4h-22.4zM1205.4 903.4h22.4v22.4h-22.4zM1205.4 913.1h22.4v22.4h-22.4zM1205.4 922.8h22.4v22.4h-22.4zM1117.6 1132.4h22.4v22.4h-22.4zM864.2 72.4h22.4v22.4h-22.4zM937.3 72.4h22.4v22.4h-22.4zM1212.7 1205.5h22.4v22.4h-22.4zM1215.1 1205.5h22.4v22.4h-22.4zM1217.5 1205.5h22.4v22.4h-22.4zM1220.0 1205.5h22.4v22.4h-22.4zM1222.4 1205.5h22.4v22.4h-22.4zM1212.7 1207.9h22.4v22.4h-22.4zM1215.1 1207.9h22.4v22.4h-22.4zM1217.5 1207.9h22.4v22.4h-22.4zM1220.0 1207.9h22.4v22.4h-22.4zM1222.4 1207.9h22.4v22.4h-22.4zM1224.9 1207.9h22.4v22.4h-22.4zM1227.3 1207.9h22.4v22.4h-22.4zM1212.7 1210.4h22.4v22.4h-22.4zM1215.1 1210.4h22.4v22.4h-22.4zM1217.5 1210.4h22.4v22.4h-22.4zM1220.0 1210.4h22.4v22.4h-22.4zM1222.4 1210.4h22.4v22.4h-22.4zM1224.9 1210.4h22.4v22.4h-22.4zM1227.3 1210.4h22.4v22.4h-22.4zM1229.7 1210.4h22.4v22.4h-22.4zM1212.7 1212.8h22.4v22.4h-22.4zM1215.1 1212.8h22.4v22.4h-22.4zM1217.5 1212.8h22.4v22.4h-22.4zM1220.0 1212.8h22.4v22.4h-22.4zM1222.4 1212.8h22.4v22.4h-22.4zM1224.9 1212.8h22.4v22.4h-22.4zM1227.3 1212.8h22.4v22.4h-22.4zM1229.7 1212.8h22.4v22.4h-22.4zM1232.2 1212.8h22.4v22.4h-22.4zM1234.6 1212.8h22.4v22.4h-22.4zM1215.1 1215.2h22.4v22.4h-22.4zM1217.5 1215.2h22.4v22.4h-22.4zM1220.0 1215.2h22.4v22.4h-22.4zM1222.4 1215.2h22.4v22.4h-22.4zM1224.9 1215.2h22.4v22.4h-22.4zM1227.3 1215.2h22.4v22.4h-22.4zM1229.7 1215.2h22.4v22.4h-22.4zM1232.2 1215.2h22.4v22.4h-22.4zM1234.6 1215.2h22.4v22.4h-22.4zM1237.0 1215.2h22.4v22.4h-22.4zM1217.5 1217.7h22.4v22.4h-22.4zM1220.0 1217.7h22.4v22.4h-22.4zM1222.4 1217.7h22.4v22.4h-22.4zM1224.9 1217.7h22.4v22.4h-22.4zM1227.3 1217.7h22.4v22.4h-22.4zM1229.7 1217.7h22.4v22.4h-22.4zM1232.2 1217.7h22.4v22.4h-22.4zM1234.6 1217.7h22.4v22.4h-22.4zM1237.0 1217.7h22.4v22.4h-22.4zM1217.5 1220.1h22.4v22.4h-22.4zM1220.0 1220.1h22.4v22.4h-22.4zM1222.4 1220.1h22.4v22.4h-22.4zM1224.9 1220.1h22.4v22.4h-22.4zM1227.3 1220.1h22.4v22.4h-22.4zM1229.7 1220.1h22.4v22.4h-22.4zM1232.2 1220.1h22.4v22.4h-22.4zM1234.6 1220.1h22.4v22.4h-22.4zM1237.0 1220.1h22.4v22.4h-22.4zM1083.5 1064.2h22.4v22.4h-22.4zM1086.0 1064.2h22.4v22.4h-22.4zM1088.4 1064.2h22.4v22.4h-22.4zM1090.8 1064.2h22.4v22.4h-22.4zM1093.3 1064.2h22.4v22.4h-22.4zM1083.5 1066.6h22.4v22.4h-22.4zM1086.0 1066.6h22.4v22.4h-22.4zM1088.4 1066.6h22.4v22.4h-22.4zM1090.8 1066.6h22.4v22.4h-22.4zM1093.3 1066.6h22.4v22.4h-22.4zM1095.7 1066.6h22.4v22.4h-22.4zM1083.5 1069.0h22.4v22.4h-22.4zM1086.0 1069.0h22.4v22.4h-22.4zM1088.4 1069.0h22.4v22.4h-22.4zM1090.8 1069.0h22.4v22.4h-22.4zM1093.3 1069.0h22.4v22.4h-22.4zM1095.7 1069.0h22.4v22.4h-22.4zM1098.2 1069.0h22.4v22.4h-22.4zM1081.1 1071.5h22.4v22.4h-22.4zM1083.5 1071.5h22.4v22.4h-22.4zM1086.0 1071.5h22.4v22.4h-22.4zM1088.4 1071.5h22.4v22.4h-22.4zM1090.8 1071.5h22.4v22.4h-22.4zM1093.3 1071.5h22.4v22.4h-22.4zM1095.7 1071.5h22.4v22.4h-22.4zM1098.2 1071.5h22.4v22.4h-22.4zM1100.6 1071.5h22.4v22.4h-22.4zM1083.5 1073.9h22.4v22.4h-22.4zM1086.0 1073.9h22.4v22.4h-22.4zM1088.4 1073.9h22.4v22.4h-22.4zM1090.8 1073.9h22.4v22.4h-22.4zM1093.3 1073.9h22.4v22.4h-22.4zM1095.7 1073.9h22.4v22.4h-22.4zM1098.2 1073.9h22.4v22.4h-22.4zM1100.6 1073.9h22.4v22.4h-22.4zM1083.5 1076.4h22.4v22.4h-22.4zM1086.0 1076.4h22.4v22.4h-22.4zM1088.4 1076.4h22.4v22.4h-22.4zM1090.8 1076.4h22.4v22.4h-22.4zM1093.3 1076.4h22.4v22.4h-22.4zM1095.7 1076.4h22.4v22.4h-22.4zM1098.2 1076.4h22.4v22.4h-22.4zM1100.6 1076.4h22.4v22.4h-22.4zM1083.5 1078.8h22.4v22.4h-22.4zM1086.0 1078.8h22.4v22.4h-22.4zM1088.4 1078.8h22.4v22.4h-22.4zM1090.8 1078.8h22.4v22.4h-22.4zM1093.3 1078.8h22.4v22.4h-22.4zM1095.7 1078.8h22.4v22.4h-22.4zM1098.2 1078.8h22.4v22.4h-22.4zM1100.6 1078.8h22.4v22.4h-22.4zM1083.5 1081.2h22.4v22.4h-22.4zM1086.0 1081.2h22.4v22.4h-22.4zM1088.4 1081.2h22.4v22.4h-22.4zM1090.8 1081.2h22.4v22.4h-22.4zM1093.3 1081.2h22.4v22.4h-22.4zM1095.7 1081.2h22.4v22.4h-22.4zM1098.2 1081.2h22.4v22.4h-22.4zM1100.6 1081.2h22.4v22.4h-22.4zM1081.1 1120.2h22.4v22.4h-22.4zM1083.5 1120.2h22.4v22.4h-22.4zM1086.0 1120.2h22.4v22.4h-22.4zM1088.4 1120.2h22.4v22.4h-22.4zM1090.8 1120.2h22.4v22.4h-22.4zM1081.1 1122.7h22.4v22.4h-22.4zM1083.5 1122.7h22.4v22.4h-22.4zM1086.0 1122.7h22.4v22.4h-22.4zM1088.4 1122.7h22.4v22.4h-22.4zM1090.8 1122.7h22.4v22.4h-22.4zM1093.3 1122.7h22.4v22.4h-22.4zM1095.7 1122.7h22.4v22.4h-22.4zM1098.2 1122.7h22.4v22.4h-22.4zM1081.1 1125.1h22.4v22.4h-22.4zM1083.5 1125.1h22.4v22.4h-22.4zM1086.0 1125.1h22.4v22.4h-22.4zM1088.4 1125.1h22.4v22.4h-22.4zM1090.8 1125.1h22.4v22.4h-22.4zM1093.3 1125.1h22.4v22.4h-22.4zM1095.7 1125.1h22.4v22.4h-22.4zM1098.2 1125.1h22.4v22.4h-22.4zM1100.6 1125.1h22.4v22.4h-22.4zM1103.0 1125.1h22.4v22.4h-22.4zM1081.1 1127.5h22.4v22.4h-22.4zM1083.5 1127.5h22.4v22.4h-22.4zM1086.0 1127.5h22.4v22.4h-22.4zM1088.4 1127.5h22.4v22.4h-22.4zM1090.8 1127.5h22.4v22.4h-22.4zM1093.3 1127.5h22.4v22.4h-22.4zM1095.7 1127.5h22.4v22.4h-22.4zM1098.2 1127.5h22.4v22.4h-22.4zM1100.6 1127.5h22.4v22.4h-22.4zM1103.0 1127.5h22.4v22.4h-22.4zM1081.1 1130.0h22.4v22.4h-22.4zM1083.5 1130.0h22.4v22.4h-22.4zM1086.0 1130.0h22.4v22.4h-22.4zM1088.4 1130.0h22.4v22.4h-22.4zM1090.8 1130.0h22.4v22.4h-22.4zM1093.3 1130.0h22.4v22.4h-22.4zM1095.7 1130.0h22.4v22.4h-22.4zM1098.2 1130.0h22.4v22.4h-22.4zM1100.6 1130.0h22.4v22.4h-22.4zM1103.0 1130.0h22.4v22.4h-22.4zM1083.5 1132.4h22.4v22.4h-22.4zM1086.0 1132.4h22.4v22.4h-22.4zM1088.4 1132.4h22.4v22.4h-22.4zM1090.8 1132.4h22.4v22.4h-22.4zM1093.3 1132.4h22.4v22.4h-22.4zM1095.7 1132.4h22.4v22.4h-22.4zM1098.2 1132.4h22.4v22.4h-22.4zM1100.6 1132.4h22.4v22.4h-22.4zM1103.0 1132.4h22.4v22.4h-22.4zM1086.0 1134.8h22.4v22.4h-22.4zM1088.4 1134.8h22.4v22.4h-22.4zM1090.8 1134.8h22.4v22.4h-22.4zM1093.3 1134.8h22.4v22.4h-22.4zM1095.7 1134.8h22.4v22.4h-22.4zM1098.2 1134.8h22.4v22.4h-22.4zM1100.6 1134.8h22.4v22.4h-22.4zM1103.0 1134.8h22.4v22.4h-22.4zM372.1 759.6h22.4v22.4h-22.4zM374.5 759.6h22.4v22.4h-22.4zM376.9 759.6h22.4v22.4h-22.4zM379.4 759.6h22.4v22.4h-22.4zM381.8 759.6h22.4v22.4h-22.4zM372.1 762.0h22.4v22.4h-22.4zM374.5 762.0h22.4v22.4h-22.4zM376.9 762.0h22.4v22.4h-22.4zM379.4 762.0h22.4v22.4h-22.4zM381.8 762.0h22.4v22.4h-22.4zM384.3 762.0h22.4v22.4h-22.4zM372.1 764.5h22.4v22.4h-22.4zM374.5 764.5h22.4v22.4h-22.4zM376.9 764.5h22.4v22.4h-22.4zM379.4 764.5h22.4v22.4h-22.4zM381.8 764.5h22.4v22.4h-22.4zM384.3 764.5h22.4v22.4h-22.4zM372.1 766.9h22.4v22.4h-22.4zM374.5 766.9h22.4v22.4h-22.4zM376.9 766.9h22.4v22.4h-22.4zM379.4 766.9h22.4v22.4h-22.4zM381.8 766.9h22.4v22.4h-22.4zM384.3 766.9h22.4v22.4h-22.4zM374.5 769.3h22.4v22.4h-22.4zM376.9 769.3h22.4v22.4h-22.4zM379.4 769.3h22.4v22.4h-22.4zM381.8 769.3h22.4v22.4h-22.4zM384.3 769.3h22.4v22.4h-22.4zM374.5 771.8h22.4v22.4h-22.4zM376.9 771.8h22.4v22.4h-22.4zM379.4 771.8h22.4v22.4h-22.4zM381.8 771.8h22.4v22.4h-22.4zM384.3 771.8h22.4v22.4h-22.4zM211.3 842.4h22.4v22.4h-22.4zM213.7 842.4h22.4v22.4h-22.4zM216.1 842.4h22.4v22.4h-22.4zM218.6 842.4h22.4v22.4h-22.4zM221.0 842.4h22.4v22.4h-22.4zM211.3 844.9h22.4v22.4h-22.4zM213.7 844.9h22.4v22.4h-22.4zM216.1 844.9h22.4v22.4h-22.4zM218.6 844.9h22.4v22.4h-22.4zM221.0 844.9h22.4v22.4h-22.4zM223.4 844.9h22.4v22.4h-22.4zM211.3 847.3h22.4v22.4h-22.4zM213.7 847.3h22.4v22.4h-22.4zM216.1 847.3h22.4v22.4h-22.4zM218.6 847.3h22.4v22.4h-22.4zM221.0 847.3h22.4v22.4h-22.4zM223.4 847.3h22.4v22.4h-22.4zM225.9 847.3h22.4v22.4h-22.4zM211.3 849.7h22.4v22.4h-22.4zM213.7 849.7h22.4v22.4h-22.4zM216.1 849.7h22.4v22.4h-22.4zM218.6 849.7h22.4v22.4h-22.4zM221.0 849.7h22.4v22.4h-22.4zM223.4 849.7h22.4v22.4h-22.4zM225.9 849.7h22.4v22.4h-22.4zM228.3 849.7h22.4v22.4h-22.4zM211.3 852.2h22.4v22.4h-22.4zM213.7 852.2h22.4v22.4h-22.4zM216.1 852.2h22.4v22.4h-22.4zM218.6 852.2h22.4v22.4h-22.4zM221.0 852.2h22.4v22.4h-22.4zM223.4 852.2h22.4v22.4h-22.4zM225.9 852.2h22.4v22.4h-22.4zM228.3 852.2h22.4v22.4h-22.4zM216.1 854.6h22.4v22.4h-22.4zM218.6 854.6h22.4v22.4h-22.4zM221.0 854.6h22.4v22.4h-22.4zM223.4 854.6h22.4v22.4h-22.4zM225.9 854.6h22.4v22.4h-22.4zM228.3 854.6h22.4v22.4h-22.4zM213.7 883.9h22.4v22.4h-22.4zM216.1 883.9h22.4v22.4h-22.4zM218.6 883.9h22.4v22.4h-22.4zM221.0 883.9h22.4v22.4h-22.4zM223.4 883.9h22.4v22.4h-22.4zM225.9 883.9h22.4v22.4h-22.4zM213.7 886.3h22.4v22.4h-22.4zM216.1 886.3h22.4v22.4h-22.4zM218.6 886.3h22.4v22.4h-22.4zM221.0 886.3h22.4v22.4h-22.4zM223.4 886.3h22.4v22.4h-22.4zM225.9 886.3h22.4v22.4h-22.4zM228.3 886.3h22.4v22.4h-22.4zM213.7 888.7h22.4v22.4h-22.4zM216.1 888.7h22.4v22.4h-22.4zM218.6 888.7h22.4v22.4h-22.4zM221.0 888.7h22.4v22.4h-22.4zM223.4 888.7h22.4v22.4h-22.4zM225.9 888.7h22.4v22.4h-22.4zM228.3 888.7h22.4v22.4h-22.4zM213.7 891.2h22.4v22.4h-22.4zM216.1 891.2h22.4v22.4h-22.4zM218.6 891.2h22.4v22.4h-22.4zM221.0 891.2h22.4v22.4h-22.4zM223.4 891.2h22.4v22.4h-22.4zM225.9 891.2h22.4v22.4h-22.4zM228.3 891.2h22.4v22.4h-22.4zM213.7 893.6h22.4v22.4h-22.4zM216.1 893.6h22.4v22.4h-22.4zM218.6 893.6h22.4v22.4h-22.4zM221.0 893.6h22.4v22.4h-22.4zM223.4 893.6h22.4v22.4h-22.4zM225.9 893.6h22.4v22.4h-22.4zM228.3 893.6h22.4v22.4h-22.4zM216.1 896.0h22.4v22.4h-22.4zM218.6 896.0h22.4v22.4h-22.4zM221.0 896.0h22.4v22.4h-22.4zM223.4 896.0h22.4v22.4h-22.4zM225.9 896.0h22.4v22.4h-22.4zM228.3 896.0h22.4v22.4h-22.4zM218.6 898.5h22.4v22.4h-22.4zM221.0 898.5h22.4v22.4h-22.4zM223.4 898.5h22.4v22.4h-22.4zM225.9 898.5h22.4v22.4h-22.4zM228.3 898.5h22.4v22.4h-22.4zM532.9 774.2h22.4v22.4h-22.4zM535.3 774.2h22.4v22.4h-22.4zM537.8 774.2h22.4v22.4h-22.4zM532.9 776.6h22.4v22.4h-22.4zM535.3 776.6h22.4v22.4h-22.4zM537.8 776.6h22.4v22.4h-22.4zM540.2 776.6h22.4v22.4h-22.4zM532.9 779.1h22.4v22.4h-22.4zM535.3 779.1h22.4v22.4h-22.4zM537.8 779.1h22.4v22.4h-22.4zM540.2 779.1h22.4v22.4h-22.4zM542.6 779.1h22.4v22.4h-22.4zM535.3 781.5h22.4v22.4h-22.4zM537.8 781.5h22.4v22.4h-22.4zM540.2 781.5h22.4v22.4h-22.4zM542.6 781.5h22.4v22.4h-22.4zM545.1 781.5h22.4v22.4h-22.4zM537.8 784.0h22.4v22.4h-22.4zM540.2 784.0h22.4v22.4h-22.4zM542.6 784.0h22.4v22.4h-22.4zM545.1 784.0h22.4v22.4h-22.4zM547.5 784.0h22.4v22.4h-22.4zM540.2 786.4h22.4v22.4h-22.4zM542.6 786.4h22.4v22.4h-22.4zM545.1 786.4h22.4v22.4h-22.4zM547.5 786.4h22.4v22.4h-22.4zM549.9 786.4h22.4v22.4h-22.4zM542.6 788.8h22.4v22.4h-22.4zM545.1 788.8h22.4v22.4h-22.4zM547.5 788.8h22.4v22.4h-22.4zM549.9 788.8h22.4v22.4h-22.4zM545.1 791.3h22.4v22.4h-22.4zM547.5 791.3h22.4v22.4h-22.4zM549.9 791.3h22.4v22.4h-22.4zM552.4 791.3h22.4v22.4h-22.4zM547.5 793.7h22.4v22.4h-22.4zM549.9 793.7h22.4v22.4h-22.4zM552.4 793.7h22.4v22.4h-22.4zM355.0 330.7h22.4v22.4h-22.4zM357.5 330.7h22.4v22.4h-22.4zM359.9 330.7h22.4v22.4h-22.4zM352.6 333.2h22.4v22.4h-22.4zM355.0 333.2h22.4v22.4h-22.4zM357.5 333.2h22.4v22.4h-22.4zM359.9 333.2h22.4v22.4h-22.4zM350.1 335.6h22.4v22.4h-22.4zM352.6 335.6h22.4v22.4h-22.4zM355.0 335.6h22.4v22.4h-22.4zM357.5 335.6h22.4v22.4h-22.4zM359.9 335.6h22.4v22.4h-22.4zM345.3 338.0h22.4v22.4h-22.4zM347.7 338.0h22.4v22.4h-22.4zM350.1 338.0h22.4v22.4h-22.4zM352.6 338.0h22.4v22.4h-22.4zM355.0 338.0h22.4v22.4h-22.4zM357.5 338.0h22.4v22.4h-22.4zM359.9 338.0h22.4v22.4h-22.4zM345.3 340.5h22.4v22.4h-22.4zM347.7 340.5h22.4v22.4h-22.4zM350.1 340.5h22.4v22.4h-22.4zM352.6 340.5h22.4v22.4h-22.4zM355.0 340.5h22.4v22.4h-22.4zM357.5 340.5h22.4v22.4h-22.4zM342.8 342.9h22.4v22.4h-22.4zM345.3 342.9h22.4v22.4h-22.4zM347.7 342.9h22.4v22.4h-22.4zM350.1 342.9h22.4v22.4h-22.4zM352.6 342.9h22.4v22.4h-22.4zM355.0 342.9h22.4v22.4h-22.4zM340.4 345.3h22.4v22.4h-22.4zM342.8 345.3h22.4v22.4h-22.4zM345.3 345.3h22.4v22.4h-22.4zM347.7 345.3h22.4v22.4h-22.4zM350.1 345.3h22.4v22.4h-22.4zM352.6 345.3h22.4v22.4h-22.4zM338.0 347.8h22.4v22.4h-22.4zM340.4 347.8h22.4v22.4h-22.4zM342.8 347.8h22.4v22.4h-22.4zM345.3 347.8h22.4v22.4h-22.4zM347.7 347.8h22.4v22.4h-22.4zM350.1 347.8h22.4v22.4h-22.4zM335.5 350.2h22.4v22.4h-22.4zM338.0 350.2h22.4v22.4h-22.4zM340.4 350.2h22.4v22.4h-22.4zM342.8 350.2h22.4v22.4h-22.4zM345.3 350.2h22.4v22.4h-22.4zM347.7 350.2h22.4v22.4h-22.4zM350.1 350.2h22.4v22.4h-22.4zM333.1 352.7h22.4v22.4h-22.4zM335.5 352.7h22.4v22.4h-22.4zM338.0 352.7h22.4v22.4h-22.4zM340.4 352.7h22.4v22.4h-22.4zM342.8 352.7h22.4v22.4h-22.4zM345.3 352.7h22.4v22.4h-22.4zM347.7 352.7h22.4v22.4h-22.4zM330.7 355.1h22.4v22.4h-22.4zM333.1 355.1h22.4v22.4h-22.4zM335.5 355.1h22.4v22.4h-22.4zM338.0 355.1h22.4v22.4h-22.4zM340.4 355.1h22.4v22.4h-22.4zM342.8 355.1h22.4v22.4h-22.4zM345.3 355.1h22.4v22.4h-22.4zM328.2 357.5h22.4v22.4h-22.4zM330.7 357.5h22.4v22.4h-22.4zM333.1 357.5h22.4v22.4h-22.4zM335.5 357.5h22.4v22.4h-22.4zM338.0 357.5h22.4v22.4h-22.4zM340.4 357.5h22.4v22.4h-22.4zM342.8 357.5h22.4v22.4h-22.4zM330.7 360.0h22.4v22.4h-22.4zM333.1 360.0h22.4v22.4h-22.4zM335.5 360.0h22.4v22.4h-22.4zM338.0 360.0h22.4v22.4h-22.4zM340.4 360.0h22.4v22.4h-22.4zM330.7 362.4h22.4v22.4h-22.4zM333.1 362.4h22.4v22.4h-22.4zM335.5 362.4h22.4v22.4h-22.4zM338.0 362.4h22.4v22.4h-22.4zM330.7 364.8h22.4v22.4h-22.4zM333.1 364.8h22.4v22.4h-22.4zM335.5 364.8h22.4v22.4h-22.4zM474.4 301.5h22.4v22.4h-22.4zM476.8 301.5h22.4v22.4h-22.4zM479.3 301.5h22.4v22.4h-22.4zM481.7 301.5h22.4v22.4h-22.4zM484.2 301.5h22.4v22.4h-22.4zM474.4 303.9h22.4v22.4h-22.4zM476.8 303.9h22.4v22.4h-22.4zM479.3 303.9h22.4v22.4h-22.4zM481.7 303.9h22.4v22.4h-22.4zM484.2 303.9h22.4v22.4h-22.4zM486.6 303.9h22.4v22.4h-22.4zM474.4 306.4h22.4v22.4h-22.4zM476.8 306.4h22.4v22.4h-22.4zM479.3 306.4h22.4v22.4h-22.4zM481.7 306.4h22.4v22.4h-22.4zM484.2 306.4h22.4v22.4h-22.4zM486.6 306.4h22.4v22.4h-22.4zM474.4 308.8h22.4v22.4h-22.4zM476.8 308.8h22.4v22.4h-22.4zM479.3 308.8h22.4v22.4h-22.4zM481.7 308.8h22.4v22.4h-22.4zM484.2 308.8h22.4v22.4h-22.4zM486.6 308.8h22.4v22.4h-22.4zM489.0 308.8h22.4v22.4h-22.4zM474.4 311.2h22.4v22.4h-22.4zM476.8 311.2h22.4v22.4h-22.4zM479.3 311.2h22.4v22.4h-22.4zM481.7 311.2h22.4v22.4h-22.4zM484.2 311.2h22.4v22.4h-22.4zM486.6 311.2h22.4v22.4h-22.4zM489.0 311.2h22.4v22.4h-22.4zM476.8 313.7h22.4v22.4h-22.4zM479.3 313.7h22.4v22.4h-22.4zM481.7 313.7h22.4v22.4h-22.4zM484.2 313.7h22.4v22.4h-22.4zM486.6 313.7h22.4v22.4h-22.4zM489.0 313.7h22.4v22.4h-22.4zM479.3 316.1h22.4v22.4h-22.4zM481.7 316.1h22.4v22.4h-22.4zM484.2 316.1h22.4v22.4h-22.4zM486.6 316.1h22.4v22.4h-22.4zM391.6 384.3h22.4v22.4h-22.4zM394.0 384.3h22.4v22.4h-22.4zM396.4 384.3h22.4v22.4h-22.4zM398.9 384.3h22.4v22.4h-22.4zM401.3 384.3h22.4v22.4h-22.4zM391.6 386.8h22.4v22.4h-22.4zM394.0 386.8h22.4v22.4h-22.4zM396.4 386.8h22.4v22.4h-22.4zM398.9 386.8h22.4v22.4h-22.4zM401.3 386.8h22.4v22.4h-22.4zM391.6 389.2h22.4v22.4h-22.4zM394.0 389.2h22.4v22.4h-22.4zM396.4 389.2h22.4v22.4h-22.4zM398.9 389.2h22.4v22.4h-22.4zM401.3 389.2h22.4v22.4h-22.4zM391.6 391.6h22.4v22.4h-22.4zM394.0 391.6h22.4v22.4h-22.4zM396.4 391.6h22.4v22.4h-22.4zM398.9 391.6h22.4v22.4h-22.4zM401.3 391.6h22.4v22.4h-22.4zM391.6 394.1h22.4v22.4h-22.4zM394.0 394.1h22.4v22.4h-22.4zM396.4 394.1h22.4v22.4h-22.4zM398.9 394.1h22.4v22.4h-22.4zM401.3 394.1h22.4v22.4h-22.4zM437.9 196.7h22.4v22.4h-22.4zM440.3 196.7h22.4v22.4h-22.4zM442.7 196.7h22.4v22.4h-22.4zM445.2 196.7h22.4v22.4h-22.4zM447.6 196.7h22.4v22.4h-22.4zM450.0 196.7h22.4v22.4h-22.4zM452.5 196.7h22.4v22.4h-22.4zM454.9 196.7h22.4v22.4h-22.4zM457.4 196.7h22.4v22.4h-22.4zM459.8 196.7h22.4v22.4h-22.4zM462.2 196.7h22.4v22.4h-22.4zM464.7 196.7h22.4v22.4h-22.4zM437.9 199.1h22.4v22.4h-22.4zM440.3 199.1h22.4v22.4h-22.4zM442.7 199.1h22.4v22.4h-22.4zM445.2 199.1h22.4v22.4h-22.4zM447.6 199.1h22.4v22.4h-22.4zM450.0 199.1h22.4v22.4h-22.4zM452.5 199.1h22.4v22.4h-22.4zM454.9 199.1h22.4v22.4h-22.4zM457.4 199.1h22.4v22.4h-22.4zM459.8 199.1h22.4v22.4h-22.4zM462.2 199.1h22.4v22.4h-22.4zM464.7 199.1h22.4v22.4h-22.4zM437.9 201.6h22.4v22.4h-22.4zM440.3 201.6h22.4v22.4h-22.4zM442.7 201.6h22.4v22.4h-22.4zM445.2 201.6h22.4v22.4h-22.4zM447.6 201.6h22.4v22.4h-22.4zM450.0 201.6h22.4v22.4h-22.4zM452.5 201.6h22.4v22.4h-22.4zM454.9 201.6h22.4v22.4h-22.4zM457.4 201.6h22.4v22.4h-22.4zM459.8 201.6h22.4v22.4h-22.4zM462.2 201.6h22.4v22.4h-22.4zM464.7 201.6h22.4v22.4h-22.4zM518.3 179.7h22.4v22.4h-22.4zM520.7 179.7h22.4v22.4h-22.4zM523.1 179.7h22.4v22.4h-22.4zM525.6 179.7h22.4v22.4h-22.4zM528.0 179.7h22.4v22.4h-22.4zM530.4 179.7h22.4v22.4h-22.4zM518.3 182.1h22.4v22.4h-22.4zM520.7 182.1h22.4v22.4h-22.4zM523.1 182.1h22.4v22.4h-22.4zM525.6 182.1h22.4v22.4h-22.4zM528.0 182.1h22.4v22.4h-22.4zM530.4 182.1h22.4v22.4h-22.4zM532.9 182.1h22.4v22.4h-22.4zM518.3 184.5h22.4v22.4h-22.4zM520.7 184.5h22.4v22.4h-22.4zM523.1 184.5h22.4v22.4h-22.4zM525.6 184.5h22.4v22.4h-22.4zM528.0 184.5h22.4v22.4h-22.4zM530.4 184.5h22.4v22.4h-22.4zM532.9 184.5h22.4v22.4h-22.4zM518.3 187.0h22.4v22.4h-22.4zM520.7 187.0h22.4v22.4h-22.4zM523.1 187.0h22.4v22.4h-22.4zM525.6 187.0h22.4v22.4h-22.4zM528.0 187.0h22.4v22.4h-22.4zM530.4 187.0h22.4v22.4h-22.4zM532.9 187.0h22.4v22.4h-22.4zM518.3 189.4h22.4v22.4h-22.4zM520.7 189.4h22.4v22.4h-22.4zM523.1 189.4h22.4v22.4h-22.4zM525.6 189.4h22.4v22.4h-22.4zM528.0 189.4h22.4v22.4h-22.4zM530.4 189.4h22.4v22.4h-22.4zM532.9 189.4h22.4v22.4h-22.4zM269.7 428.2h22.4v22.4h-22.4zM272.2 428.2h22.4v22.4h-22.4zM274.6 428.2h22.4v22.4h-22.4zM277.1 428.2h22.4v22.4h-22.4zM279.5 428.2h22.4v22.4h-22.4zM269.7 430.6h22.4v22.4h-22.4zM272.2 430.6h22.4v22.4h-22.4zM274.6 430.6h22.4v22.4h-22.4zM277.1 430.6h22.4v22.4h-22.4zM279.5 430.6h22.4v22.4h-22.4zM269.7 433.1h22.4v22.4h-22.4zM272.2 433.1h22.4v22.4h-22.4zM274.6 433.1h22.4v22.4h-22.4zM277.1 433.1h22.4v22.4h-22.4zM279.5 433.1h22.4v22.4h-22.4zM269.7 435.5h22.4v22.4h-22.4zM272.2 435.5h22.4v22.4h-22.4zM274.6 435.5h22.4v22.4h-22.4zM277.1 435.5h22.4v22.4h-22.4zM279.5 435.5h22.4v22.4h-22.4zM269.7 437.9h22.4v22.4h-22.4zM272.2 437.9h22.4v22.4h-22.4zM274.6 437.9h22.4v22.4h-22.4zM277.1 437.9h22.4v22.4h-22.4zM279.5 437.9h22.4v22.4h-22.4zM269.7 440.4h22.4v22.4h-22.4zM272.2 440.4h22.4v22.4h-22.4zM274.6 440.4h22.4v22.4h-22.4zM277.1 440.4h22.4v22.4h-22.4zM279.5 440.4h22.4v22.4h-22.4zM269.7 442.8h22.4v22.4h-22.4zM272.2 442.8h22.4v22.4h-22.4zM274.6 442.8h22.4v22.4h-22.4zM856.9 282.0h22.4v22.4h-22.4zM852.1 284.4h22.4v22.4h-22.4zM854.5 284.4h22.4v22.4h-22.4zM856.9 284.4h22.4v22.4h-22.4zM847.2 286.9h22.4v22.4h-22.4zM849.6 286.9h22.4v22.4h-22.4zM852.1 286.9h22.4v22.4h-22.4zM854.5 286.9h22.4v22.4h-22.4zM856.9 286.9h22.4v22.4h-22.4zM847.2 289.3h22.4v22.4h-22.4zM849.6 289.3h22.4v22.4h-22.4zM852.1 289.3h22.4v22.4h-22.4zM854.5 289.3h22.4v22.4h-22.4zM856.9 289.3h22.4v22.4h-22.4zM847.2 291.7h22.4v22.4h-22.4zM849.6 291.7h22.4v22.4h-22.4zM852.1 291.7h22.4v22.4h-22.4zM854.5 291.7h22.4v22.4h-22.4zM856.9 291.7h22.4v22.4h-22.4zM847.2 294.2h22.4v22.4h-22.4zM849.6 294.2h22.4v22.4h-22.4zM852.1 294.2h22.4v22.4h-22.4zM854.5 294.2h22.4v22.4h-22.4zM856.9 294.2h22.4v22.4h-22.4z"/></g>
<g fill="none" stroke="#ff0000" stroke-width="3" stroke-linejoin="round"><path d="M356.5 163.6L371.6 189.8H341.3zM361.3 166.1L376.5 192.3H346.2zM356.5 170.9L371.6 197.1H341.3zM361.3 173.4L376.5 199.6H346.2zM358.9 170.9L374.0 197.1H343.8zM273.6 71.0L288.8 97.2H258.5zM280.9 71.0L296.1 97.2H265.8zM263.9 78.4L279.0 104.6H248.8zM268.8 75.9L283.9 102.1H253.6zM271.2 80.8L286.3 107.0H256.1zM266.3 83.2L281.5 109.4H251.2zM261.5 88.1L276.6 114.3H246.3zM259.0 93.0L274.1 119.2H243.9zM263.9 95.4L279.0 121.6H248.8zM268.8 93.0L283.9 119.2H253.6zM271.2 97.8L286.3 124.0H256.1zM261.5 100.3L276.6 126.5H246.3zM266.3 100.3L281.5 126.5H251.2zM273.6 88.1L288.8 114.3H258.5zM276.1 78.4L291.2 104.6H260.9zM278.5 83.2L293.6 109.4H263.4zM280.9 78.4L296.1 104.6H265.8zM259.0 97.8L274.1 124.0H243.9zM263.9 90.5L279.0 116.7H248.8zM317.5 93.0L332.6 119.2H302.4zM317.5 100.3L332.6 126.5H302.4zM315.1 97.8L330.2 124.0H299.9zM319.9 95.4L335.1 121.6H304.8zM366.2 66.2L381.4 92.4H351.1zM368.7 66.2L383.8 92.4H353.5zM373.5 66.2L388.7 92.4H358.4zM368.7 68.6L383.8 94.8H353.5zM371.1 71.0L386.2 97.2H356.0zM363.8 73.5L378.9 99.7H348.7zM366.2 75.9L381.4 102.1H351.1zM361.3 78.4L376.5 104.6H346.2zM358.9 80.8L374.0 107.0H343.8zM356.5 85.7L371.6 111.9H341.3zM354.0 83.2L369.2 109.4H338.9zM349.2 85.7L364.3 111.9H334.0zM351.6 90.5L366.7 116.7H336.5zM356.5 90.5L371.6 116.7H341.3zM361.3 88.1L376.5 114.3H346.2zM363.8 83.2L378.9 109.4H348.7zM358.9 88.1L374.0 114.3H343.8zM351.6 97.8L366.7 124.0H336.5zM354.0 88.1L369.2 114.3H338.9zM368.7 73.5L383.8 99.7H353.5zM363.8 68.6L378.9 94.8H348.7zM358.9 75.9L374.0 102.1H343.8zM361.3 71.0L376.5 97.2H346.2zM458.8 234.3L473.9 260.5H443.7zM453.9 236.7L469.1 262.9H438.8zM449.1 239.2L464.2 265.4H433.9zM444.2 244.0L459.3 270.3H429.1zM439.3 246.5L454.4 272.7H424.2zM434.4 251.4L449.6 277.6H419.3zM429.6 258.7L444.7 284.9H414.4zM453.9 244.0L469.1 270.3H438.8zM449.1 248.9L464.2 275.1H433.9zM444.2 253.8L459.3 280.0H429.1zM439.3 258.7L454.4 284.9H424.2zM434.4 263.5L449.6 289.7H419.3zM429.6 263.5L444.7 289.7H414.4zM451.5 241.6L466.6 267.8H436.4zM446.6 246.5L461.8 272.7H431.5zM441.8 251.4L456.9 277.6H426.6zM436.9 256.2L452.0 282.4H421.7zM432.0 261.1L447.1 287.3H416.9zM456.4 239.2L471.5 265.4H441.2zM458.8 239.2L473.9 265.4H443.7zM458.8 241.6L473.9 267.8H443.7zM456.4 244.0L471.5 270.3H441.2zM451.5 248.9L466.6 275.1H436.4zM446.6 253.8L461.8 280.0H431.5zM441.8 258.7L456.9 284.9H426.6zM436.9 261.1L452.0 287.3H421.7zM943.7 71.0L958.8 97.2H928.5zM885.2 149.0L900.3 175.2H870.1zM887.6 153.9L902.8 180.1H872.5zM890.1 158.8L905.2 185.0H874.9zM885.2 163.6L900.3 189.8H870.1zM880.3 168.5L895.5 194.7H865.2zM877.9 173.4L893.0 199.6H862.8zM875.4 175.8L890.6 202.0H860.3zM882.8 170.9L897.9 197.1H867.6zM885.2 158.8L900.3 185.0H870.1zM887.6 156.3L902.8 182.5H872.5zM877.9 168.5L893.0 194.7H862.8zM921.7 122.2L936.9 148.4H906.6zM931.5 119.8L946.6 146.0H916.4zM943.7 114.9L958.8 141.1H928.5zM948.5 110.0L963.7 136.2H933.4zM968.0 127.1L983.2 153.3H952.9zM977.8 122.2L992.9 148.4H962.7zM997.3 97.8L1012.4 124.0H982.1zM1002.1 95.4L1017.3 121.6H987.0zM1011.9 95.4L1027.0 121.6H996.8zM1024.1 110.0L1039.2 136.2H1008.9zM1019.2 127.1L1034.3 153.3H1004.1zM1014.3 146.6L1029.5 172.8H999.2zM997.3 156.3L1012.4 182.5H982.1zM948.5 163.6L963.7 189.8H933.4zM951.0 156.3L966.1 182.5H935.9zM958.3 151.5L973.4 177.7H943.2zM495.4 326.9L510.5 353.1H480.2zM875.4 436.5L890.6 462.8H860.3zM880.3 436.5L895.5 462.8H865.2zM880.3 441.4L895.5 467.6H865.2zM843.8 570.6L858.9 596.8H828.6zM824.3 580.3L839.4 606.5H809.2zM834.0 577.9L849.2 604.1H818.9zM824.3 597.4L839.4 623.6H809.2zM841.3 587.6L856.5 613.8H826.2zM829.2 587.6L844.3 613.8H814.0zM834.0 592.5L849.2 618.7H818.9zM826.7 590.1L841.8 616.3H811.6zM829.2 582.7L844.3 609.0H814.0zM824.3 594.9L839.4 621.1H809.2zM841.3 585.2L856.5 611.4H826.2zM909.6 707.0L924.7 733.2H894.4zM919.3 714.3L934.4 740.5H904.2zM926.6 714.3L941.7 740.5H911.5zM931.5 721.6L946.6 747.8H916.4zM936.4 724.1L951.5 750.3H921.2zM941.2 731.4L956.4 757.6H926.1zM929.1 724.1L944.2 750.3H913.9zM933.9 731.4L949.1 757.6H918.8zM924.2 721.6L939.3 747.8H909.0zM941.2 763.1L956.4 789.3H926.1zM936.4 767.9L951.5 794.1H921.2zM948.5 767.9L963.7 794.1H933.4zM958.3 780.1L973.4 806.3H943.2zM963.2 789.9L978.3 816.1H948.0zM955.9 789.9L971.0 816.1H940.7zM965.6 794.7L980.7 820.9H950.5zM975.3 804.5L990.5 830.7H960.2zM1158.1 806.9L1173.2 833.1H1143.0zM1158.1 809.4L1173.2 835.6H1143.0zM1050.9 875.2L1066.0 901.4H1035.7zM1055.7 872.7L1070.9 898.9H1040.6zM1060.6 870.3L1075.8 896.5H1045.5zM1065.5 867.8L1080.6 894.0H1050.4zM1067.9 863.0L1083.1 889.2H1052.8zM1072.8 860.5L1087.9 886.7H1057.7zM1080.1 855.7L1095.2 881.9H1065.0zM1063.1 875.2L1078.2 901.4H1047.9zM1058.2 875.2L1073.3 901.4H1043.1zM1072.8 867.8L1087.9 894.0H1057.7zM1216.6 887.3L1231.7 913.5H1201.4zM1214.1 899.5L1229.3 925.7H1199.0zM1216.6 906.8L1231.7 933.0H1201.4zM1214.1 914.1L1229.3 940.3H1199.0zM1211.7 921.4L1226.8 947.7H1196.6zM1209.2 919.0L1224.4 945.2H1194.1zM1206.8 926.3L1221.9 952.5H1191.7zM1204.4 931.2L1219.5 957.4H1189.2zM1201.9 936.1L1217.1 962.3H1186.8zM1199.5 933.6L1214.6 959.8H1184.4zM1197.1 940.9L1212.2 967.1H1181.9zM1194.6 945.8L1209.8 972.0H1179.5zM1192.2 950.7L1207.3 976.9H1177.1zM1189.8 948.3L1204.9 974.5H1174.6zM1187.3 955.6L1202.5 981.8H1172.2zM1184.9 960.4L1200.0 986.6H1169.8zM1182.4 965.3L1197.6 991.5H1167.3zM1180.0 962.9L1195.1 989.1H1164.9zM1177.6 970.2L1192.7 996.4H1162.4zM1175.1 975.1L1190.3 1001.3H1160.0zM1172.7 979.9L1187.8 1006.1H1157.6zM1170.3 977.5L1185.4 1003.7H1155.1zM1167.8 984.8L1183.0 1011.0H1152.7zM1163.0 987.2L1178.1 1013.4H1147.8zM1158.1 989.7L1173.2 1015.9H1143.0zM1211.7 909.3L1226.8 935.5H1196.6zM1206.8 916.6L1221.9 942.8H1191.7zM1201.9 923.9L1217.1 950.1H1186.8zM1197.1 931.2L1212.2 957.4H1181.9zM1192.2 938.5L1207.3 964.7H1177.1zM1187.3 945.8L1202.5 972.0H1172.2zM1182.4 953.1L1197.6 979.3H1167.3zM1177.6 960.4L1192.7 986.6H1162.4zM1223.9 984.8L1239.0 1011.0H1208.7zM1240.9 1001.9L1256.1 1028.1H1225.8zM1233.6 1018.9L1248.7 1045.1H1218.5zM1177.6 1009.2L1192.7 1035.4H1162.4zM1155.6 989.7L1170.8 1015.9H1140.5zM1258.0 1079.8L1273.1 1106.0H1242.8zM1267.7 1084.7L1282.9 1110.9H1252.6zM1275.0 1087.1L1290.2 1113.3H1259.9zM1262.9 1087.1L1278.0 1113.3H1247.7zM1270.2 1089.6L1285.3 1115.8H1255.0zM1423.7 1009.2L1438.8 1035.4H1408.5zM1431.0 1009.2L1446.1 1035.4H1415.8zM1423.7 1016.5L1438.8 1042.7H1408.5zM1431.0 1023.8L1446.1 1050.0H1415.8zM1435.8 1018.9L1451.0 1045.1H1420.7zM1440.7 1016.5L1455.8 1042.7H1425.6zM1440.7 1033.5L1455.8 1059.7H1425.6zM1445.6 1026.2L1460.7 1052.4H1430.5zM1450.5 1028.7L1465.6 1054.9H1435.3zM1455.3 1031.1L1470.5 1057.3H1440.2zM1460.2 1033.5L1475.3 1059.7H1445.1zM1467.5 1028.7L1482.6 1054.9H1452.4zM1477.3 1028.7L1492.4 1054.9H1462.1zM1487.0 1028.7L1502.1 1054.9H1471.9zM1470.0 1036.0L1485.1 1062.2H1454.8zM1479.7 1036.0L1494.8 1062.2H1464.6zM1487.0 1036.0L1502.1 1062.2H1471.9zM1448.0 1033.5L1463.2 1059.7H1432.9zM1301.8 1116.4L1317.0 1142.6H1286.7zM1306.7 1121.3L1321.8 1147.5H1291.6zM1311.6 1126.1L1326.7 1152.3H1296.5zM1316.5 1131.0L1331.6 1157.2H1301.3zM1304.3 1126.1L1319.4 1152.3H1289.1zM1309.1 1128.6L1324.3 1154.8H1294.0zM1299.4 1123.7L1314.5 1149.9H1284.3zM1314.0 1131.0L1329.1 1157.2H1298.9zM1438.3 1245.5L1453.4 1271.7H1423.1zM1445.6 1245.5L1460.7 1271.7H1430.5zM1438.3 1255.3L1453.4 1281.5H1423.1zM1443.2 1252.8L1458.3 1279.0H1428.0zM1448.0 1248.0L1463.2 1274.2H1432.9zM1216.6 892.2L1231.7 918.4H1201.4zM1219.0 911.7L1234.1 937.9H1203.9zM1216.6 919.0L1231.7 945.2H1201.4zM1214.1 931.2L1229.3 957.4H1199.0zM1206.8 940.9L1221.9 967.1H1191.7zM1206.8 950.7L1221.9 976.9H1191.7zM1199.5 958.0L1214.6 984.2H1184.4zM1211.7 923.9L1226.8 950.1H1196.6zM1299.4 1116.4L1314.5 1142.6H1284.3zM1301.8 1118.8L1317.0 1145.0H1286.7zM1304.3 1121.3L1319.4 1147.5H1289.1zM1306.7 1123.7L1321.8 1149.9H1291.6zM1309.1 1126.1L1324.3 1152.3H1294.0zM1311.6 1128.6L1326.7 1154.8H1296.5zM1314.0 1129.8L1329.1 1156.0H1298.9zM1316.5 1131.0L1331.6 1157.2H1301.3zM1301.8 1121.3L1317.0 1147.5H1286.7zM1306.7 1126.1L1321.8 1152.3H1291.6zM1311.6 1131.0L1326.7 1157.2H1296.5zM1299.4 1121.3L1314.5 1147.5H1284.3zM1304.3 1126.1L1319.4 1152.3H1289.1zM1309.1 1129.8L1324.3 1156.0H1294.0zM1426.1 1014.0L1441.2 1040.2H1411.0zM1433.4 1021.4L1448.5 1047.6H1418.3zM1438.3 1028.7L1453.4 1054.9H1423.1zM1443.2 1031.1L1458.3 1057.3H1428.0zM1431.0 1014.0L1446.1 1040.2H1415.8zM1440.7 1023.8L1455.8 1050.0H1425.6zM1197.1 999.4L1212.2 1025.6H1181.9zM1201.9 1004.3L1217.1 1030.5H1186.8zM1192.2 1006.7L1207.3 1032.9H1177.1zM1189.8 994.5L1204.9 1020.8H1174.6zM946.1 114.9L961.2 141.1H931.0zM951.0 114.9L966.1 141.1H935.9zM941.2 119.8L956.4 146.0H926.1zM946.1 119.8L961.2 146.0H931.0zM951.0 119.8L966.1 146.0H935.9zM955.9 119.8L971.0 146.0H940.7zM941.2 124.6L956.4 150.9H926.1zM946.1 124.6L961.2 150.9H931.0zM951.0 124.6L966.1 150.9H935.9zM955.9 124.6L971.0 150.9H940.7zM960.7 124.6L975.9 150.9H945.6zM941.2 129.5L956.4 155.7H926.1zM946.1 129.5L961.2 155.7H931.0zM951.0 129.5L966.1 155.7H935.9zM955.9 129.5L971.0 155.7H940.7zM960.7 129.5L975.9 155.7H945.6zM965.6 129.5L980.7 155.7H950.5zM941.2 134.4L956.4 160.6H926.1zM946.1 134.4L961.2 160.6H931.0zM951.0 134.4L966.1 160.6H935.9zM955.9 134.4L971.0 160.6H940.7zM960.7 134.4L975.9 160.6H945.6zM965.6 134.4L980.7 160.6H950.5zM941.2 139.3L956.4 165.5H926.1zM946.1 139.3L961.2 165.5H931.0zM951.0 139.3L966.1 165.5H935.9zM955.9 139.3L971.0 165.5H940.7zM960.7 139.3L975.9 165.5H945.6zM965.6 139.3L980.7 165.5H950.5zM941.2 144.1L956.4 170.3H926.1zM946.1 144.1L961.2 170.3H931.0zM951.0 144.1L966.1 170.3H935.9zM955.9 144.1L971.0 170.3H940.7zM960.7 144.1L975.9 170.3H945.6zM965.6 144.1L980.7 170.3H950.5zM946.1 149.0L961.2 175.2H931.0zM951.0 149.0L966.1 175.2H935.9zM955.9 149.0L971.0 175.2H940.7zM960.7 149.0L975.9 175.2H945.6zM951.0 153.9L966.1 180.1H935.9zM955.9 153.9L971.0 180.1H940.7zM1002.1 95.4L1017.3 121.6H987.0zM1007.0 95.4L1022.1 121.6H991.9zM997.3 100.3L1012.4 126.5H982.1zM1002.1 100.3L1017.3 126.5H987.0zM1007.0 100.3L1022.1 126.5H991.9zM1011.9 100.3L1027.0 126.5H996.8zM992.4 105.2L1007.5 131.4H977.3zM997.3 105.2L1012.4 131.4H982.1zM1002.1 105.2L1017.3 131.4H987.0zM1007.0 105.2L1022.1 131.4H991.9zM1011.9 105.2L1027.0 131.4H996.8zM1016.8 105.2L1031.9 131.4H1001.6zM987.5 110.0L1002.7 136.2H972.4zM992.4 110.0L1007.5 136.2H977.3zM997.3 110.0L1012.4 136.2H982.1zM1002.1 110.0L1017.3 136.2H987.0zM1007.0 110.0L1022.1 136.2H991.9zM1011.9 110.0L1027.0 136.2H996.8zM1016.8 110.0L1031.9 136.2H1001.6zM987.5 114.9L1002.7 141.1H972.4zM992.4 114.9L1007.5 141.1H977.3zM997.3 114.9L1012.4 141.1H982.1zM1002.1 114.9L1017.3 141.1H987.0zM1007.0 114.9L1022.1 141.1H991.9zM1011.9 114.9L1027.0 141.1H996.8zM1016.8 114.9L1031.9 141.1H1001.6zM982.7 119.8L997.8 146.0H967.5zM987.5 119.8L1002.7 146.0H972.4zM992.4 119.8L1007.5 146.0H977.3zM997.3 119.8L1012.4 146.0H982.1zM1002.1 119.8L1017.3 146.0H987.0zM1007.0 119.8L1022.1 146.0H991.9zM1011.9 119.8L1027.0 146.0H996.8zM1016.8 119.8L1031.9 146.0H1001.6zM977.8 124.6L992.9 150.9H962.7zM982.7 124.6L997.8 150.9H967.5zM987.5 124.6L1002.7 150.9H972.4zM992.4 124.6L1007.5 150.9H977.3zM997.3 124.6L1012.4 150.9H982.1zM1002.1 124.6L1017.3 150.9H987.0zM1007.0 124.6L1022.1 150.9H991.9zM1011.9 124.6L1027.0 150.9H996.8zM977.8 129.5L992.9 155.7H962.7zM982.7 129.5L997.8 155.7H967.5zM987.5 129.5L1002.7 155.7H972.4zM992.4 129.5L1007.5 155.7H977.3zM997.3 129.5L1012.4 155.7H982.1zM1002.1 129.5L1017.3 155.7H987.0zM1007.0 129.5L1022.1 155.7H991.9zM1011.9 129.5L1027.0 155.7H996.8zM977.8 134.4L992.9 160.6H962.7zM982.7 134.4L997.8 160.6H967.5zM987.5 134.4L1002.7 160.6H972.4zM992.4 134.4L1007.5 160.6H977.3zM997.3 134.4L1012.4 160.6H982.1zM1002.1 134.4L1017.3 160.6H987.0zM1007.0 134.4L1022.1 160.6H991.9zM977.8 139.3L992.9 165.5H962.7zM982.7 139.3L997.8 165.5H967.5zM987.5 139.3L1002.7 165.5H972.4zM992.4 139.3L1007.5 165.5H977.3zM997.3 139.3L1012.4 165.5H982.1zM1002.1 139.3L1017.3 165.5H987.0zM982.7 144.1L997.8 170.3H967.5zM987.5 144.1L1002.7 170.3H972.4zM992.4 144.1L1007.5 170.3H977.3zM997.3 144.1L1012.4 170.3H982.1zM987.5 149.0L1002.7 175.2H972.4zM992.4 149.0L1007.5 175.2H977.3zM997.3 149.0L1012.4 175.2H982.1zM936.4 767.9L951.5 794.1H921.2zM941.2 767.9L956.4 794.1H926.1zM946.1 767.9L961.2 794.1H931.0zM941.2 772.8L956.4 799.0H926.1zM946.1 772.8L961.2 799.0H931.0zM951.0 772.8L966.1 799.0H935.9zM946.1 777.7L961.2 803.9H931.0zM951.0 777.7L966.1 803.9H935.9zM955.9 777.7L971.0 803.9H940.7zM946.1 782.6L961.2 808.8H931.0zM951.0 782.6L966.1 808.8H935.9zM955.9 782.6L971.0 808.8H940.7zM955.9 787.4L971.0 813.6H940.7zM960.7 787.4L975.9 813.6H945.6zM1216.6 984.8L1231.7 1011.0H1201.4zM1221.4 984.8L1236.6 1011.0H1206.3zM1211.7 989.7L1226.8 1015.9H1196.6zM1216.6 989.7L1231.7 1015.9H1201.4zM1221.4 989.7L1236.6 1015.9H1206.3zM1226.3 989.7L1241.4 1015.9H1211.2zM1211.7 994.5L1226.8 1020.8H1196.6zM1216.6 994.5L1231.7 1020.8H1201.4zM1221.4 994.5L1236.6 1020.8H1206.3zM1226.3 994.5L1241.4 1020.8H1211.2zM1231.2 994.5L1246.3 1020.8H1216.0zM1206.8 999.4L1221.9 1025.6H1191.7zM1211.7 999.4L1226.8 1025.6H1196.6zM1216.6 999.4L1231.7 1025.6H1201.4zM1221.4 999.4L1236.6 1025.6H1206.3zM1226.3 999.4L1241.4 1025.6H1211.2zM1231.2 999.4L1246.3 1025.6H1216.0zM1236.1 999.4L1251.2 1025.6H1220.9zM1211.7 1004.3L1226.8 1030.5H1196.6zM1216.6 1004.3L1231.7 1030.5H1201.4zM1221.4 1004.3L1236.6 1030.5H1206.3zM1226.3 1004.3L1241.4 1030.5H1211.2zM1231.2 1004.3L1246.3 1030.5H1216.0zM1236.1 1004.3L1251.2 1030.5H1220.9zM1216.6 1009.2L1231.7 1035.4H1201.4zM1221.4 1009.2L1236.6 1035.4H1206.3zM1226.3 1009.2L1241.4 1035.4H1211.2zM1231.2 1009.2L1246.3 1035.4H1216.0zM1236.1 1009.2L1251.2 1035.4H1220.9zM1221.4 1014.0L1236.6 1040.2H1206.3zM1226.3 1014.0L1241.4 1040.2H1211.2zM1231.2 1014.0L1246.3 1040.2H1216.0zM1236.1 1014.0L1251.2 1040.2H1220.9zM1175.1 972.6L1190.3 998.8H1160.0zM1180.0 972.6L1195.1 998.8H1164.9zM1165.4 977.5L1180.5 1003.7H1150.3zM1170.3 977.5L1185.4 1003.7H1155.1zM1175.1 977.5L1190.3 1003.7H1160.0zM1180.0 977.5L1195.1 1003.7H1164.9zM1184.9 977.5L1200.0 1003.7H1169.8zM1165.4 982.4L1180.5 1008.6H1150.3zM1170.3 982.4L1185.4 1008.6H1155.1zM1175.1 982.4L1190.3 1008.6H1160.0zM1180.0 982.4L1195.1 1008.6H1164.9zM1184.9 982.4L1200.0 1008.6H1169.8zM1160.5 987.2L1175.6 1013.4H1145.4zM1165.4 987.2L1180.5 1013.4H1150.3zM1170.3 987.2L1185.4 1013.4H1155.1zM1175.1 987.2L1190.3 1013.4H1160.0zM1180.0 987.2L1195.1 1013.4H1164.9zM1184.9 987.2L1200.0 1013.4H1169.8zM1160.5 992.1L1175.6 1018.3H1145.4zM1165.4 992.1L1180.5 1018.3H1150.3zM1170.3 992.1L1185.4 1018.3H1155.1zM1175.1 992.1L1190.3 1018.3H1160.0zM1180.0 992.1L1195.1 1018.3H1164.9zM1184.9 992.1L1200.0 1018.3H1169.8zM1160.5 997.0L1175.6 1023.2H1145.4zM1165.4 997.0L1180.5 1023.2H1150.3zM1170.3 997.0L1185.4 1023.2H1155.1zM1175.1 997.0L1190.3 1023.2H1160.0zM1180.0 997.0L1195.1 1023.2H1164.9zM1184.9 997.0L1200.0 1023.2H1169.8zM1165.4 1001.9L1180.5 1028.1H1150.3zM1170.3 1001.9L1185.4 1028.1H1155.1zM1175.1 1001.9L1190.3 1028.1H1160.0zM1180.0 1001.9L1195.1 1028.1H1164.9zM1184.9 1001.9L1200.0 1028.1H1169.8zM1170.3 1006.7L1185.4 1032.9H1155.1zM1175.1 1006.7L1190.3 1032.9H1160.0zM1180.0 1006.7L1195.1 1032.9H1164.9z"/></g>
<g fill="none" stroke="#000" stroke-width="3" stroke-linecap="round">
<rect x="119.9" y="30" width="1450.1" height="1449.9" stroke-linejoin="round"/>
<path d="M171.3 1479.9V1509.6"/><path d="M415.0 1479.9V1509.6"/><path d="M658.6 1479.9V1509.6"/><path d="M902.2 1479.9V1509.6"/><path d="M1145.9 1479.9V1509.6"/><path d="M1389.5 1479.9V1509.6"/><path d="M119.9 81.2H89.7"/><path d="M119.9 324.9H89.7"/><path d="M119.9 568.5H89.7"/><path d="M119.9 812.2H89.7"/><path d="M119.9 1055.9H89.7"/><path d="M119.9 1299.6H89.7"/>
</g>
<g font-size="50"><text transform="translate(171.3,1587.8) scale(1,1.04)" text-anchor="middle">0</text><text transform="translate(415.0,1587.8) scale(1,1.04)" text-anchor="middle">100</text><text transform="translate(658.6,1587.8) scale(1,1.04)" text-anchor="middle">200</text><text transform="translate(902.2,1587.8) scale(1,1.04)" text-anchor="middle">300</text><text transform="translate(1145.9,1587.8) scale(1,1.04)" text-anchor="middle">400</text><text transform="translate(1389.5,1587.8) scale(1,1.04)" text-anchor="middle">500</text><text transform="translate(47.9,81.2) rotate(-90) scale(1,1.04)" text-anchor="middle">0</text><text transform="translate(47.9,324.9) rotate(-90) scale(1,1.04)" text-anchor="middle">100</text><text transform="translate(47.9,568.5) rotate(-90) scale(1,1.04)" text-anchor="middle">200</text><text transform="translate(47.9,812.2) rotate(-90) scale(1,1.04)" text-anchor="middle">300</text><text transform="translate(47.9,1055.9) rotate(-90) scale(1,1.04)" text-anchor="middle">400</text><text transform="translate(47.9,1299.6) rotate(-90) scale(1,1.04)" text-anchor="middle">500</text></g>
<text transform="translate(199.5,1451) scale(1,1.0)" font-size="107" textLength="256.6" lengthAdjust="spacingAndGlyphs">Top-L</text>
<path d="M1203.5 72.5L1218.6 98.7H1188.4z" fill="none" stroke="#ff0000" stroke-width="3" stroke-linejoin="round"/>
<path d="M1192.3 138.5h22.4v22.4h-22.4z" fill="none" stroke="#0000ff" stroke-width="3" stroke-linejoin="round"/>
<text transform="translate(1249.2,107.6) scale(1,1.035)" font-size="50" textLength="301.1" lengthAdjust="spacingAndGlyphs">DNCON2-RR</text>
<text transform="translate(1249.2,168) scale(1,1.035)" font-size="50" textLength="227.1" lengthAdjust="spacingAndGlyphs">Model-RR</text>
</svg>
</body></html>
